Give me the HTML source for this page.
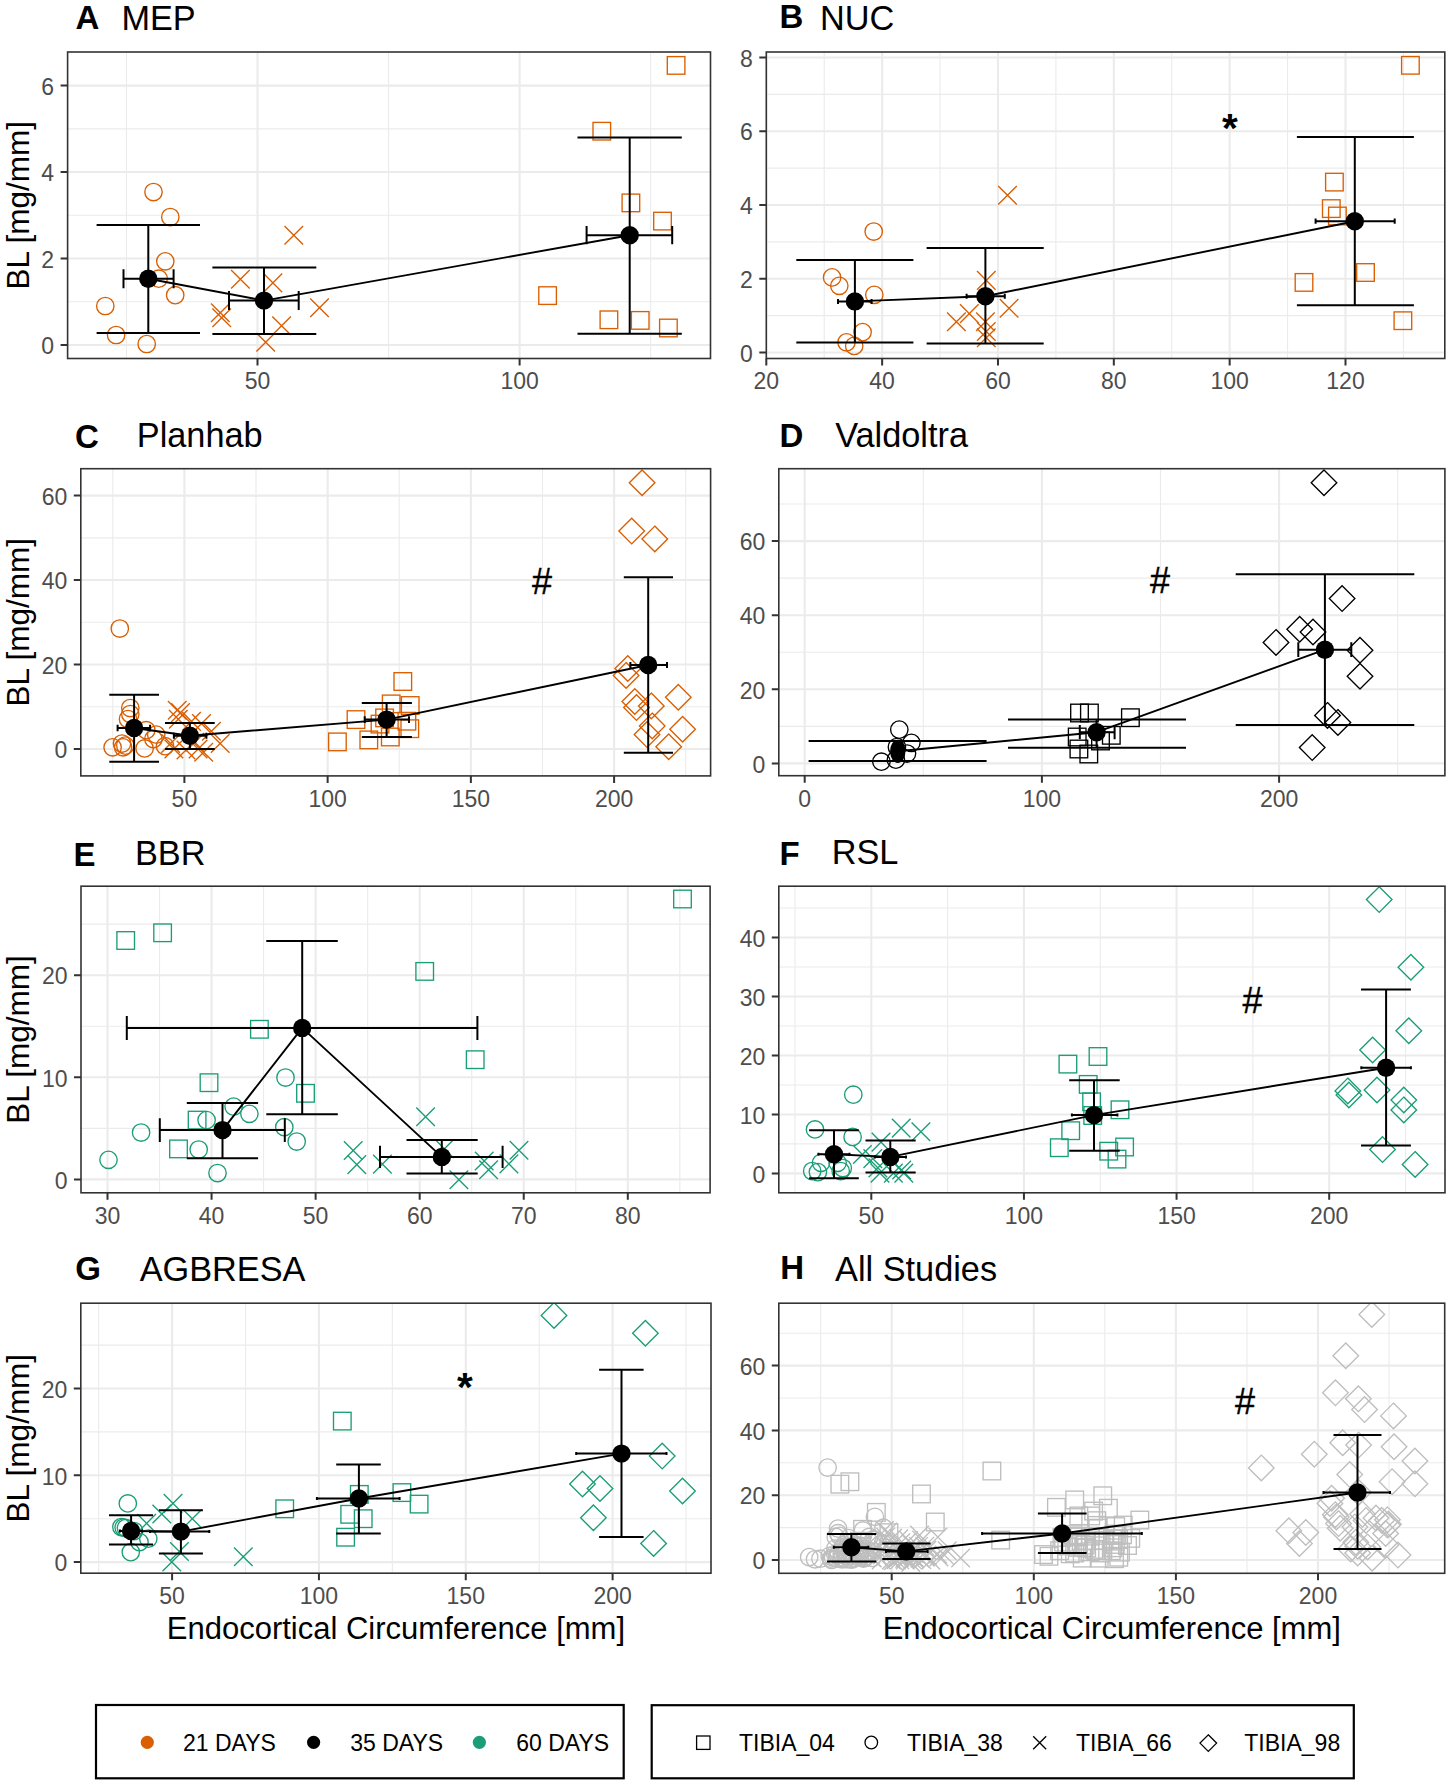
<!DOCTYPE html>
<html><head><meta charset="utf-8"><title>BL vs Endocortical Circumference</title>
<style>html,body{margin:0;padding:0;background:#fff;}svg{display:block;}</style></head>
<body><svg width="1450" height="1783" viewBox="0 0 1450 1783" font-family='"Liberation Sans", sans-serif'>
<rect width="1450" height="1783" fill="#fff"/>
<defs><clipPath id="cA"><rect x="67.6" y="52" width="642.9" height="306.5"/></clipPath><clipPath id="cB"><rect x="766.3" y="52" width="678.5" height="306.5"/></clipPath><clipPath id="cC"><rect x="80.8" y="468.7" width="629.8" height="307.2"/></clipPath><clipPath id="cD"><rect x="778.8" y="468.7" width="666.1" height="307"/></clipPath><clipPath id="cE"><rect x="81" y="886.2" width="629.1" height="306.6"/></clipPath><clipPath id="cF"><rect x="778.8" y="886.2" width="666.2" height="306.6"/></clipPath><clipPath id="cG"><rect x="80.8" y="1303.2" width="630.2" height="270"/></clipPath><clipPath id="cH"><rect x="778.8" y="1303.2" width="665.9" height="270.1"/></clipPath></defs>
<g clip-path="url(#cA)"><line x1="126.45" y1="52" x2="126.45" y2="358.5" stroke="#EBEBEB" stroke-width="1.1"/><line x1="388.55" y1="52" x2="388.55" y2="358.5" stroke="#EBEBEB" stroke-width="1.1"/><line x1="650.65" y1="52" x2="650.65" y2="358.5" stroke="#EBEBEB" stroke-width="1.1"/><line x1="67.6" y1="301.77" x2="710.5" y2="301.77" stroke="#EBEBEB" stroke-width="1.1"/><line x1="67.6" y1="215.3" x2="710.5" y2="215.3" stroke="#EBEBEB" stroke-width="1.1"/><line x1="67.6" y1="128.83" x2="710.5" y2="128.83" stroke="#EBEBEB" stroke-width="1.1"/><line x1="257.5" y1="52" x2="257.5" y2="358.5" stroke="#EBEBEB" stroke-width="2.1"/><line x1="519.6" y1="52" x2="519.6" y2="358.5" stroke="#EBEBEB" stroke-width="2.1"/><line x1="67.6" y1="345" x2="710.5" y2="345" stroke="#EBEBEB" stroke-width="2.1"/><line x1="67.6" y1="258.53" x2="710.5" y2="258.53" stroke="#EBEBEB" stroke-width="2.1"/><line x1="67.6" y1="172.07" x2="710.5" y2="172.07" stroke="#EBEBEB" stroke-width="2.1"/><line x1="67.6" y1="85.6" x2="710.5" y2="85.6" stroke="#EBEBEB" stroke-width="2.1"/><circle cx="105.3" cy="306" r="8.7" fill="none" stroke="#D95F02" stroke-width="1.35"/><circle cx="116.1" cy="335" r="8.7" fill="none" stroke="#D95F02" stroke-width="1.35"/><circle cx="146.7" cy="344" r="8.7" fill="none" stroke="#D95F02" stroke-width="1.35"/><circle cx="153.5" cy="192" r="8.7" fill="none" stroke="#D95F02" stroke-width="1.35"/><circle cx="170.3" cy="217" r="8.7" fill="none" stroke="#D95F02" stroke-width="1.35"/><circle cx="165.3" cy="261.3" r="8.7" fill="none" stroke="#D95F02" stroke-width="1.35"/><circle cx="158.7" cy="278.7" r="8.7" fill="none" stroke="#D95F02" stroke-width="1.35"/><circle cx="175.2" cy="295.2" r="8.7" fill="none" stroke="#D95F02" stroke-width="1.35"/><path d="M284.5 226L303.1 244.6M284.5 244.6L303.1 226" stroke="#D95F02" stroke-width="1.35"/><path d="M231.1 270L249.7 288.6M231.1 288.6L249.7 270" stroke="#D95F02" stroke-width="1.35"/><path d="M263.6 273.6L282.2 292.2M263.6 292.2L282.2 273.6" stroke="#D95F02" stroke-width="1.35"/><path d="M211 303.5L229.6 322.1M211 322.1L229.6 303.5" stroke="#D95F02" stroke-width="1.35"/><path d="M212.4 308.4L231 327M212.4 327L231 308.4" stroke="#D95F02" stroke-width="1.35"/><path d="M310.2 298.4L328.8 317M310.2 317L328.8 298.4" stroke="#D95F02" stroke-width="1.35"/><path d="M272.3 316.4L290.9 335M272.3 335L290.9 316.4" stroke="#D95F02" stroke-width="1.35"/><path d="M256.4 333L275 351.6M256.4 351.6L275 333" stroke="#D95F02" stroke-width="1.35"/><rect x="667.3" y="56.6" width="17.6" height="17.6" fill="none" stroke="#D95F02" stroke-width="1.35"/><rect x="593" y="122.4" width="17.6" height="17.6" fill="none" stroke="#D95F02" stroke-width="1.35"/><rect x="622.1" y="194.1" width="17.6" height="17.6" fill="none" stroke="#D95F02" stroke-width="1.35"/><rect x="653.7" y="212.3" width="17.6" height="17.6" fill="none" stroke="#D95F02" stroke-width="1.35"/><rect x="538.8" y="286.8" width="17.6" height="17.6" fill="none" stroke="#D95F02" stroke-width="1.35"/><rect x="600.1" y="311" width="17.6" height="17.6" fill="none" stroke="#D95F02" stroke-width="1.35"/><rect x="631.4" y="311.6" width="17.6" height="17.6" fill="none" stroke="#D95F02" stroke-width="1.35"/><rect x="659.6" y="319.2" width="17.6" height="17.6" fill="none" stroke="#D95F02" stroke-width="1.35"/><polyline points="148.3,278.7 264,300.6 629.7,235.2" fill="none" stroke="#000" stroke-width="1.9" stroke-linejoin="round"/><path d="M148.3 225.1V333M96.6 225.1H200M96.6 333H200M123.5 278.7H173.6M123.5 269.2V288.2M173.6 269.2V288.2M264 267.4V334M212.4 267.4H316.3M212.4 334H316.3M229 300.6H298.7M229 291.1V310.1M298.7 291.1V310.1M629.7 137.4V333.7M577.5 137.4H681.8M577.5 333.7H681.8M586.6 235.2H672.2M586.6 226.1V244.3M672.2 226.1V244.3" stroke="#000" stroke-width="2.0" fill="none"/><circle cx="148.3" cy="278.7" r="9.2" fill="#000"/><circle cx="264" cy="300.6" r="9.2" fill="#000"/><circle cx="629.7" cy="235.2" r="9.2" fill="#000"/></g>
<rect x="67.6" y="52" width="642.9" height="306.5" fill="none" stroke="#333333" stroke-width="1.6"/>
<path d="M257.5 358.5V365.5M519.6 358.5V365.5M60.6 345H67.6M60.6 258.53H67.6M60.6 172.07H67.6M60.6 85.6H67.6" stroke="#333333" stroke-width="2.0"/>
<text x="257.5" y="389.3" font-size="23" fill="#4D4D4D" text-anchor="middle">50</text>
<text x="519.6" y="389.3" font-size="23" fill="#4D4D4D" text-anchor="middle">100</text>
<text x="54.1" y="354.2" font-size="23" fill="#4D4D4D" text-anchor="end">0</text>
<text x="54.1" y="267.73" font-size="23" fill="#4D4D4D" text-anchor="end">2</text>
<text x="54.1" y="181.27" font-size="23" fill="#4D4D4D" text-anchor="end">4</text>
<text x="54.1" y="94.8" font-size="23" fill="#4D4D4D" text-anchor="end">6</text>
<text x="75.48" y="28.6" font-size="33" font-weight="bold" fill="#000">A</text>
<text x="121.39" y="30.3" font-size="34.3" fill="#000">MEP</text>
<text transform="translate(29,205.25) rotate(-90)" font-size="31.5" text-anchor="middle" fill="#000">BL [mg/mm]</text>
<g clip-path="url(#cB)"><line x1="824.22" y1="52" x2="824.22" y2="358.5" stroke="#EBEBEB" stroke-width="1.1"/><line x1="940.06" y1="52" x2="940.06" y2="358.5" stroke="#EBEBEB" stroke-width="1.1"/><line x1="1055.9" y1="52" x2="1055.9" y2="358.5" stroke="#EBEBEB" stroke-width="1.1"/><line x1="1171.74" y1="52" x2="1171.74" y2="358.5" stroke="#EBEBEB" stroke-width="1.1"/><line x1="1287.58" y1="52" x2="1287.58" y2="358.5" stroke="#EBEBEB" stroke-width="1.1"/><line x1="1403.42" y1="52" x2="1403.42" y2="358.5" stroke="#EBEBEB" stroke-width="1.1"/><line x1="766.3" y1="315.62" x2="1444.8" y2="315.62" stroke="#EBEBEB" stroke-width="1.1"/><line x1="766.3" y1="241.88" x2="1444.8" y2="241.88" stroke="#EBEBEB" stroke-width="1.1"/><line x1="766.3" y1="168.12" x2="1444.8" y2="168.12" stroke="#EBEBEB" stroke-width="1.1"/><line x1="766.3" y1="94.38" x2="1444.8" y2="94.38" stroke="#EBEBEB" stroke-width="1.1"/><line x1="766.3" y1="52" x2="766.3" y2="358.5" stroke="#EBEBEB" stroke-width="2.1"/><line x1="882.14" y1="52" x2="882.14" y2="358.5" stroke="#EBEBEB" stroke-width="2.1"/><line x1="997.98" y1="52" x2="997.98" y2="358.5" stroke="#EBEBEB" stroke-width="2.1"/><line x1="1113.82" y1="52" x2="1113.82" y2="358.5" stroke="#EBEBEB" stroke-width="2.1"/><line x1="1229.66" y1="52" x2="1229.66" y2="358.5" stroke="#EBEBEB" stroke-width="2.1"/><line x1="1345.5" y1="52" x2="1345.5" y2="358.5" stroke="#EBEBEB" stroke-width="2.1"/><line x1="766.3" y1="352.5" x2="1444.8" y2="352.5" stroke="#EBEBEB" stroke-width="2.1"/><line x1="766.3" y1="278.75" x2="1444.8" y2="278.75" stroke="#EBEBEB" stroke-width="2.1"/><line x1="766.3" y1="205" x2="1444.8" y2="205" stroke="#EBEBEB" stroke-width="2.1"/><line x1="766.3" y1="131.25" x2="1444.8" y2="131.25" stroke="#EBEBEB" stroke-width="2.1"/><line x1="766.3" y1="57.5" x2="1444.8" y2="57.5" stroke="#EBEBEB" stroke-width="2.1"/><circle cx="873.7" cy="231.5" r="8.7" fill="none" stroke="#D95F02" stroke-width="1.35"/><circle cx="832.1" cy="277.4" r="8.7" fill="none" stroke="#D95F02" stroke-width="1.35"/><circle cx="839.3" cy="285.8" r="8.7" fill="none" stroke="#D95F02" stroke-width="1.35"/><circle cx="874.3" cy="294.8" r="8.7" fill="none" stroke="#D95F02" stroke-width="1.35"/><circle cx="862.6" cy="332.1" r="8.7" fill="none" stroke="#D95F02" stroke-width="1.35"/><circle cx="846.5" cy="342.3" r="8.7" fill="none" stroke="#D95F02" stroke-width="1.35"/><circle cx="854.2" cy="345.9" r="8.7" fill="none" stroke="#D95F02" stroke-width="1.35"/><path d="M998.2 185.9L1016.8 204.5M998.2 204.5L1016.8 185.9" stroke="#D95F02" stroke-width="1.35"/><path d="M977 271.1L995.6 289.7M977 289.7L995.6 271.1" stroke="#D95F02" stroke-width="1.35"/><path d="M999.8 298.9L1018.4 317.5M999.8 317.5L1018.4 298.9" stroke="#D95F02" stroke-width="1.35"/><path d="M947.1 312.4L965.7 331M947.1 331L965.7 312.4" stroke="#D95F02" stroke-width="1.35"/><path d="M960 304.3L978.6 322.9M960 322.9L978.6 304.3" stroke="#D95F02" stroke-width="1.35"/><path d="M976.1 312.4L994.7 331M976.1 331L994.7 312.4" stroke="#D95F02" stroke-width="1.35"/><path d="M977 322.2L995.6 340.8M977 340.8L995.6 322.2" stroke="#D95F02" stroke-width="1.35"/><path d="M977 328.5L995.6 347.1M977 347.1L995.6 328.5" stroke="#D95F02" stroke-width="1.35"/><rect x="1401.6" y="56.5" width="17.6" height="17.6" fill="none" stroke="#D95F02" stroke-width="1.35"/><rect x="1325.6" y="173.3" width="17.6" height="17.6" fill="none" stroke="#D95F02" stroke-width="1.35"/><rect x="1322.5" y="199.8" width="17.6" height="17.6" fill="none" stroke="#D95F02" stroke-width="1.35"/><rect x="1328.6" y="207.2" width="17.6" height="17.6" fill="none" stroke="#D95F02" stroke-width="1.35"/><rect x="1295.2" y="273.6" width="17.6" height="17.6" fill="none" stroke="#D95F02" stroke-width="1.35"/><rect x="1356.7" y="263.7" width="17.6" height="17.6" fill="none" stroke="#D95F02" stroke-width="1.35"/><rect x="1394.1" y="311.9" width="17.6" height="17.6" fill="none" stroke="#D95F02" stroke-width="1.35"/><polyline points="854.9,301.4 985.4,296.2 1354.8,221.2" fill="none" stroke="#000" stroke-width="1.9" stroke-linejoin="round"/><path d="M854.9 260.1V342.6M796.3 260.1H913.4M796.3 342.6H913.4M838 301.4H871.6M838 298.9V303.9M871.6 298.9V303.9M985.4 248.1V343.5M926.6 248.1H1043.7M926.6 343.5H1043.7M966.6 296.2H1004.8M966.6 293.7V298.7M1004.8 293.7V298.7M1354.8 136.9V305.2M1296.9 136.9H1413.9M1296.9 305.2H1413.9M1315.6 221.2H1394.7M1315.6 218.6V223.8M1394.7 218.6V223.8" stroke="#000" stroke-width="2.0" fill="none"/><circle cx="854.9" cy="301.4" r="9.2" fill="#000"/><circle cx="985.4" cy="296.2" r="9.2" fill="#000"/><circle cx="1354.8" cy="221.2" r="9.2" fill="#000"/><text x="1229.9" y="142.3" font-size="40.5" font-weight="bold" text-anchor="middle" fill="#000">*</text></g>
<rect x="766.3" y="52" width="678.5" height="306.5" fill="none" stroke="#333333" stroke-width="1.6"/>
<path d="M766.3 358.5V365.5M882.14 358.5V365.5M997.98 358.5V365.5M1113.82 358.5V365.5M1229.66 358.5V365.5M1345.5 358.5V365.5M759.3 352.5H766.3M759.3 278.75H766.3M759.3 205H766.3M759.3 131.25H766.3M759.3 57.5H766.3" stroke="#333333" stroke-width="2.0"/>
<text x="766.3" y="389.3" font-size="23" fill="#4D4D4D" text-anchor="middle">20</text>
<text x="882.14" y="389.3" font-size="23" fill="#4D4D4D" text-anchor="middle">40</text>
<text x="997.98" y="389.3" font-size="23" fill="#4D4D4D" text-anchor="middle">60</text>
<text x="1113.82" y="389.3" font-size="23" fill="#4D4D4D" text-anchor="middle">80</text>
<text x="1229.66" y="389.3" font-size="23" fill="#4D4D4D" text-anchor="middle">100</text>
<text x="1345.5" y="389.3" font-size="23" fill="#4D4D4D" text-anchor="middle">120</text>
<text x="752.8" y="361.7" font-size="23" fill="#4D4D4D" text-anchor="end">0</text>
<text x="752.8" y="287.95" font-size="23" fill="#4D4D4D" text-anchor="end">2</text>
<text x="752.8" y="214.2" font-size="23" fill="#4D4D4D" text-anchor="end">4</text>
<text x="752.8" y="140.45" font-size="23" fill="#4D4D4D" text-anchor="end">6</text>
<text x="752.8" y="66.7" font-size="23" fill="#4D4D4D" text-anchor="end">8</text>
<text x="779.59" y="28.3" font-size="33" font-weight="bold" fill="#000">B</text>
<text x="820.09" y="30.4" font-size="34.3" fill="#000">NUC</text>
<g clip-path="url(#cC)"><line x1="112.78" y1="468.7" x2="112.78" y2="775.9" stroke="#EBEBEB" stroke-width="1.1"/><line x1="256.02" y1="468.7" x2="256.02" y2="775.9" stroke="#EBEBEB" stroke-width="1.1"/><line x1="399.25" y1="468.7" x2="399.25" y2="775.9" stroke="#EBEBEB" stroke-width="1.1"/><line x1="542.48" y1="468.7" x2="542.48" y2="775.9" stroke="#EBEBEB" stroke-width="1.1"/><line x1="685.72" y1="468.7" x2="685.72" y2="775.9" stroke="#EBEBEB" stroke-width="1.1"/><line x1="80.8" y1="706.77" x2="710.6" y2="706.77" stroke="#EBEBEB" stroke-width="1.1"/><line x1="80.8" y1="622.3" x2="710.6" y2="622.3" stroke="#EBEBEB" stroke-width="1.1"/><line x1="80.8" y1="537.83" x2="710.6" y2="537.83" stroke="#EBEBEB" stroke-width="1.1"/><line x1="184.4" y1="468.7" x2="184.4" y2="775.9" stroke="#EBEBEB" stroke-width="2.1"/><line x1="327.63" y1="468.7" x2="327.63" y2="775.9" stroke="#EBEBEB" stroke-width="2.1"/><line x1="470.87" y1="468.7" x2="470.87" y2="775.9" stroke="#EBEBEB" stroke-width="2.1"/><line x1="614.1" y1="468.7" x2="614.1" y2="775.9" stroke="#EBEBEB" stroke-width="2.1"/><line x1="80.8" y1="749" x2="710.6" y2="749" stroke="#EBEBEB" stroke-width="2.1"/><line x1="80.8" y1="664.53" x2="710.6" y2="664.53" stroke="#EBEBEB" stroke-width="2.1"/><line x1="80.8" y1="580.07" x2="710.6" y2="580.07" stroke="#EBEBEB" stroke-width="2.1"/><line x1="80.8" y1="495.6" x2="710.6" y2="495.6" stroke="#EBEBEB" stroke-width="2.1"/><circle cx="119.8" cy="628.5" r="8.7" fill="none" stroke="#D95F02" stroke-width="1.35"/><circle cx="130.3" cy="708" r="8.7" fill="none" stroke="#D95F02" stroke-width="1.35"/><circle cx="130.3" cy="714" r="8.7" fill="none" stroke="#D95F02" stroke-width="1.35"/><circle cx="128" cy="719" r="8.7" fill="none" stroke="#D95F02" stroke-width="1.35"/><circle cx="112.6" cy="747.3" r="8.7" fill="none" stroke="#D95F02" stroke-width="1.35"/><circle cx="122" cy="743.5" r="8.7" fill="none" stroke="#D95F02" stroke-width="1.35"/><circle cx="123.1" cy="747.3" r="8.7" fill="none" stroke="#D95F02" stroke-width="1.35"/><circle cx="125.3" cy="745.6" r="8.7" fill="none" stroke="#D95F02" stroke-width="1.35"/><circle cx="144.6" cy="748.4" r="8.7" fill="none" stroke="#D95F02" stroke-width="1.35"/><circle cx="146.3" cy="730.2" r="8.7" fill="none" stroke="#D95F02" stroke-width="1.35"/><circle cx="153.4" cy="739" r="8.7" fill="none" stroke="#D95F02" stroke-width="1.35"/><circle cx="156.2" cy="734.6" r="8.7" fill="none" stroke="#D95F02" stroke-width="1.35"/><circle cx="165" cy="746.2" r="8.7" fill="none" stroke="#D95F02" stroke-width="1.35"/><path d="M167.9 701L186.5 719.6M167.9 719.6L186.5 701" stroke="#D95F02" stroke-width="1.35"/><path d="M171.2 703.3L189.8 721.9M171.2 721.9L189.8 703.3" stroke="#D95F02" stroke-width="1.35"/><path d="M169 709.9L187.6 728.5M169 728.5L187.6 709.9" stroke="#D95F02" stroke-width="1.35"/><path d="M182.2 712.1L200.8 730.7M182.2 730.7L200.8 712.1" stroke="#D95F02" stroke-width="1.35"/><path d="M192.2 714.3L210.8 732.9M192.2 732.9L210.8 714.3" stroke="#D95F02" stroke-width="1.35"/><path d="M202.1 722L220.7 740.6M202.1 740.6L220.7 722" stroke="#D95F02" stroke-width="1.35"/><path d="M210.9 734.2L229.5 752.8M210.9 752.8L229.5 734.2" stroke="#D95F02" stroke-width="1.35"/><path d="M161.3 734.2L179.9 752.8M161.3 752.8L179.9 734.2" stroke="#D95F02" stroke-width="1.35"/><path d="M164.6 739.7L183.2 758.3M164.6 758.3L183.2 739.7" stroke="#D95F02" stroke-width="1.35"/><path d="M176.7 740.7L195.3 759.3M176.7 759.3L195.3 740.7" stroke="#D95F02" stroke-width="1.35"/><path d="M188.8 739.7L207.4 758.3M188.8 758.3L207.4 739.7" stroke="#D95F02" stroke-width="1.35"/><path d="M194.4 743L213 761.6M194.4 761.6L213 743" stroke="#D95F02" stroke-width="1.35"/><path d="M185.5 733L204.1 751.6M185.5 751.6L204.1 733" stroke="#D95F02" stroke-width="1.35"/><rect x="394" y="672.7" width="17.6" height="17.6" fill="none" stroke="#D95F02" stroke-width="1.35"/><rect x="382.4" y="695.1" width="17.6" height="17.6" fill="none" stroke="#D95F02" stroke-width="1.35"/><rect x="401.4" y="696.7" width="17.6" height="17.6" fill="none" stroke="#D95F02" stroke-width="1.35"/><rect x="347.2" y="710.8" width="17.6" height="17.6" fill="none" stroke="#D95F02" stroke-width="1.35"/><rect x="328.6" y="733.1" width="17.6" height="17.6" fill="none" stroke="#D95F02" stroke-width="1.35"/><rect x="360" y="731.1" width="17.6" height="17.6" fill="none" stroke="#D95F02" stroke-width="1.35"/><rect x="371.2" y="715.3" width="17.6" height="17.6" fill="none" stroke="#D95F02" stroke-width="1.35"/><rect x="375.8" y="709.1" width="17.6" height="17.6" fill="none" stroke="#D95F02" stroke-width="1.35"/><rect x="381.5" y="728.2" width="17.6" height="17.6" fill="none" stroke="#D95F02" stroke-width="1.35"/><rect x="398.1" y="712.4" width="17.6" height="17.6" fill="none" stroke="#D95F02" stroke-width="1.35"/><rect x="401" y="719.9" width="17.6" height="17.6" fill="none" stroke="#D95F02" stroke-width="1.35"/><path d="M642.1 469.9L654.9 482.7L642.1 495.5L629.3 482.7Z" fill="none" stroke="#D95F02" stroke-width="1.35"/><path d="M631.7 518.3L644.5 531.1L631.7 543.9L618.9 531.1Z" fill="none" stroke="#D95F02" stroke-width="1.35"/><path d="M654.8 526.1L667.6 538.9L654.8 551.7L642 538.9Z" fill="none" stroke="#D95F02" stroke-width="1.35"/><path d="M627.8 655.7L640.6 668.5L627.8 681.3L615 668.5Z" fill="none" stroke="#D95F02" stroke-width="1.35"/><path d="M626.1 662.6L638.9 675.4L626.1 688.2L613.3 675.4Z" fill="none" stroke="#D95F02" stroke-width="1.35"/><path d="M634.8 688.7L647.6 701.5L634.8 714.3L622 701.5Z" fill="none" stroke="#D95F02" stroke-width="1.35"/><path d="M636.5 694.8L649.3 707.6L636.5 720.4L623.7 707.6Z" fill="none" stroke="#D95F02" stroke-width="1.35"/><path d="M651.3 693.1L664.1 705.9L651.3 718.7L638.5 705.9Z" fill="none" stroke="#D95F02" stroke-width="1.35"/><path d="M678.3 684.4L691.1 697.2L678.3 710L665.5 697.2Z" fill="none" stroke="#D95F02" stroke-width="1.35"/><path d="M652.2 713.1L665 725.9L652.2 738.7L639.4 725.9Z" fill="none" stroke="#D95F02" stroke-width="1.35"/><path d="M647 721.8L659.8 734.6L647 747.4L634.2 734.6Z" fill="none" stroke="#D95F02" stroke-width="1.35"/><path d="M682.6 716.5L695.4 729.3L682.6 742.1L669.8 729.3Z" fill="none" stroke="#D95F02" stroke-width="1.35"/><path d="M668.7 733.9L681.5 746.7L668.7 759.5L655.9 746.7Z" fill="none" stroke="#D95F02" stroke-width="1.35"/><polyline points="134.1,728 189.9,735.7 386.6,719.6 648.2,665" fill="none" stroke="#000" stroke-width="1.9" stroke-linejoin="round"/><path d="M134.1 694.7V761.7M109.3 694.7H159M109.3 761.7H159M117.6 728H150.1M117.6 724.7V731.3M150.1 724.7V731.3M189.9 723V749M165 723H214.7M165 749H214.7M173.9 735.7H206.4M173.9 732.7V738.7M206.4 732.7V738.7M386.6 703V737M361.8 703H411.9M361.8 737H411.9M364.7 719.6H409M364.7 716.3V722.9M409 716.3V722.9M648.2 577.2V752.8M623.8 577.2H673M623.8 752.8H673M630.4 665H667M630.4 662V668M667 662V668" stroke="#000" stroke-width="2.0" fill="none"/><circle cx="134.1" cy="728" r="9.2" fill="#000"/><circle cx="189.9" cy="735.7" r="9.2" fill="#000"/><circle cx="386.6" cy="719.6" r="9.2" fill="#000"/><circle cx="648.2" cy="665" r="9.2" fill="#000"/><text x="542.1" y="593.8" font-size="36" text-anchor="middle" fill="#000" stroke="#000" stroke-width="0.35">#</text></g>
<rect x="80.8" y="468.7" width="629.8" height="307.2" fill="none" stroke="#333333" stroke-width="1.6"/>
<path d="M184.4 775.9V782.9M327.63 775.9V782.9M470.87 775.9V782.9M614.1 775.9V782.9M73.8 749H80.8M73.8 664.53H80.8M73.8 580.07H80.8M73.8 495.6H80.8" stroke="#333333" stroke-width="2.0"/>
<text x="184.4" y="806.7" font-size="23" fill="#4D4D4D" text-anchor="middle">50</text>
<text x="327.63" y="806.7" font-size="23" fill="#4D4D4D" text-anchor="middle">100</text>
<text x="470.87" y="806.7" font-size="23" fill="#4D4D4D" text-anchor="middle">150</text>
<text x="614.1" y="806.7" font-size="23" fill="#4D4D4D" text-anchor="middle">200</text>
<text x="67.3" y="758.2" font-size="23" fill="#4D4D4D" text-anchor="end">0</text>
<text x="67.3" y="673.73" font-size="23" fill="#4D4D4D" text-anchor="end">20</text>
<text x="67.3" y="589.27" font-size="23" fill="#4D4D4D" text-anchor="end">40</text>
<text x="67.3" y="504.8" font-size="23" fill="#4D4D4D" text-anchor="end">60</text>
<text x="74.95" y="447.6" font-size="33" font-weight="bold" fill="#000">C</text>
<text x="136.79" y="447.3" font-size="34.3" fill="#000">Planhab</text>
<text transform="translate(29,622.3) rotate(-90)" font-size="31.5" text-anchor="middle" fill="#000">BL [mg/mm]</text>
<g clip-path="url(#cD)"><line x1="923.3" y1="468.7" x2="923.3" y2="775.7" stroke="#EBEBEB" stroke-width="1.1"/><line x1="1160.5" y1="468.7" x2="1160.5" y2="775.7" stroke="#EBEBEB" stroke-width="1.1"/><line x1="1397.7" y1="468.7" x2="1397.7" y2="775.7" stroke="#EBEBEB" stroke-width="1.1"/><line x1="778.8" y1="726.35" x2="1444.9" y2="726.35" stroke="#EBEBEB" stroke-width="1.1"/><line x1="778.8" y1="652.25" x2="1444.9" y2="652.25" stroke="#EBEBEB" stroke-width="1.1"/><line x1="778.8" y1="578.15" x2="1444.9" y2="578.15" stroke="#EBEBEB" stroke-width="1.1"/><line x1="778.8" y1="504.05" x2="1444.9" y2="504.05" stroke="#EBEBEB" stroke-width="1.1"/><line x1="804.7" y1="468.7" x2="804.7" y2="775.7" stroke="#EBEBEB" stroke-width="2.1"/><line x1="1041.9" y1="468.7" x2="1041.9" y2="775.7" stroke="#EBEBEB" stroke-width="2.1"/><line x1="1279.1" y1="468.7" x2="1279.1" y2="775.7" stroke="#EBEBEB" stroke-width="2.1"/><line x1="778.8" y1="763.4" x2="1444.9" y2="763.4" stroke="#EBEBEB" stroke-width="2.1"/><line x1="778.8" y1="689.3" x2="1444.9" y2="689.3" stroke="#EBEBEB" stroke-width="2.1"/><line x1="778.8" y1="615.2" x2="1444.9" y2="615.2" stroke="#EBEBEB" stroke-width="2.1"/><line x1="778.8" y1="541.1" x2="1444.9" y2="541.1" stroke="#EBEBEB" stroke-width="2.1"/><circle cx="899.3" cy="729.6" r="8.7" fill="none" stroke="#000000" stroke-width="1.35"/><circle cx="911.4" cy="742.8" r="8.7" fill="none" stroke="#000000" stroke-width="1.35"/><circle cx="896.9" cy="747" r="8.7" fill="none" stroke="#000000" stroke-width="1.35"/><circle cx="881.4" cy="761.7" r="8.7" fill="none" stroke="#000000" stroke-width="1.35"/><circle cx="895.9" cy="759.7" r="8.7" fill="none" stroke="#000000" stroke-width="1.35"/><circle cx="907" cy="753.5" r="8.7" fill="none" stroke="#000000" stroke-width="1.35"/><rect x="1070.7" y="704.2" width="17.6" height="17.6" fill="none" stroke="#000000" stroke-width="1.35"/><rect x="1080.6" y="704.2" width="17.6" height="17.6" fill="none" stroke="#000000" stroke-width="1.35"/><rect x="1121.6" y="708.9" width="17.6" height="17.6" fill="none" stroke="#000000" stroke-width="1.35"/><rect x="1068.4" y="728.2" width="17.6" height="17.6" fill="none" stroke="#000000" stroke-width="1.35"/><rect x="1070.1" y="740.2" width="17.6" height="17.6" fill="none" stroke="#000000" stroke-width="1.35"/><rect x="1080" y="745.2" width="17.6" height="17.6" fill="none" stroke="#000000" stroke-width="1.35"/><rect x="1102.5" y="726.5" width="17.6" height="17.6" fill="none" stroke="#000000" stroke-width="1.35"/><rect x="1091.7" y="732.2" width="17.6" height="17.6" fill="none" stroke="#000000" stroke-width="1.35"/><path d="M1324 469.9L1336.8 482.7L1324 495.5L1311.2 482.7Z" fill="none" stroke="#000000" stroke-width="1.35"/><path d="M1342.1 585.8L1354.9 598.6L1342.1 611.4L1329.3 598.6Z" fill="none" stroke="#000000" stroke-width="1.35"/><path d="M1299.7 616.5L1312.5 629.3L1299.7 642.1L1286.9 629.3Z" fill="none" stroke="#000000" stroke-width="1.35"/><path d="M1313 619.2L1325.8 632L1313 644.8L1300.2 632Z" fill="none" stroke="#000000" stroke-width="1.35"/><path d="M1276 629.6L1288.8 642.4L1276 655.2L1263.2 642.4Z" fill="none" stroke="#000000" stroke-width="1.35"/><path d="M1360 637.4L1372.8 650.2L1360 663L1347.2 650.2Z" fill="none" stroke="#000000" stroke-width="1.35"/><path d="M1360 663.5L1372.8 676.3L1360 689.1L1347.2 676.3Z" fill="none" stroke="#000000" stroke-width="1.35"/><path d="M1327.5 702.6L1340.3 715.4L1327.5 728.2L1314.7 715.4Z" fill="none" stroke="#000000" stroke-width="1.35"/><path d="M1337.9 709.6L1350.7 722.4L1337.9 735.2L1325.1 722.4Z" fill="none" stroke="#000000" stroke-width="1.35"/><path d="M1312.2 734.8L1325 747.6L1312.2 760.4L1299.4 747.6Z" fill="none" stroke="#000000" stroke-width="1.35"/><polyline points="897.8,751.3 1096.6,732.2 1324.9,649.7" fill="none" stroke="#000" stroke-width="1.9" stroke-linejoin="round"/><path d="M897.8 741V761M808.6 741H986.6M808.6 761H986.6M892 751.3H904M892 749.3V753.3M904 749.3V753.3M1096.6 719.5V747.8M1008 719.5H1186M1008 747.8H1186M1079.8 732.2H1114.6M1079.8 725.1V739.3M1114.6 725.1V739.3M1324.9 574.2V725M1235.7 574.2H1414.3M1235.7 725H1414.3M1298.3 649.7H1351.3M1298.3 642.3V657.1M1351.3 642.3V657.1" stroke="#000" stroke-width="2.0" fill="none"/><ellipse cx="897.8" cy="751.3" rx="7.7" ry="11.6" fill="#000"/><circle cx="1096.6" cy="732.2" r="9.2" fill="#000"/><circle cx="1324.9" cy="649.7" r="9.2" fill="#000"/><text x="1160" y="592.8" font-size="36" text-anchor="middle" fill="#000" stroke="#000" stroke-width="0.35">#</text></g>
<rect x="778.8" y="468.7" width="666.1" height="307" fill="none" stroke="#333333" stroke-width="1.6"/>
<path d="M804.7 775.7V782.7M1041.9 775.7V782.7M1279.1 775.7V782.7M771.8 763.4H778.8M771.8 689.3H778.8M771.8 615.2H778.8M771.8 541.1H778.8" stroke="#333333" stroke-width="2.0"/>
<text x="804.7" y="806.5" font-size="23" fill="#4D4D4D" text-anchor="middle">0</text>
<text x="1041.9" y="806.5" font-size="23" fill="#4D4D4D" text-anchor="middle">100</text>
<text x="1279.1" y="806.5" font-size="23" fill="#4D4D4D" text-anchor="middle">200</text>
<text x="765.3" y="772.6" font-size="23" fill="#4D4D4D" text-anchor="end">0</text>
<text x="765.3" y="698.5" font-size="23" fill="#4D4D4D" text-anchor="end">20</text>
<text x="765.3" y="624.4" font-size="23" fill="#4D4D4D" text-anchor="end">40</text>
<text x="765.3" y="550.3" font-size="23" fill="#4D4D4D" text-anchor="end">60</text>
<text x="779.59" y="446.8" font-size="33" font-weight="bold" fill="#000">D</text>
<text x="835.15" y="447.3" font-size="34.3" fill="#000">Valdoltra</text>
<g clip-path="url(#cE)"><line x1="159.53" y1="886.2" x2="159.53" y2="1192.8" stroke="#EBEBEB" stroke-width="1.1"/><line x1="263.59" y1="886.2" x2="263.59" y2="1192.8" stroke="#EBEBEB" stroke-width="1.1"/><line x1="367.65" y1="886.2" x2="367.65" y2="1192.8" stroke="#EBEBEB" stroke-width="1.1"/><line x1="471.71" y1="886.2" x2="471.71" y2="1192.8" stroke="#EBEBEB" stroke-width="1.1"/><line x1="575.77" y1="886.2" x2="575.77" y2="1192.8" stroke="#EBEBEB" stroke-width="1.1"/><line x1="679.83" y1="886.2" x2="679.83" y2="1192.8" stroke="#EBEBEB" stroke-width="1.1"/><line x1="81" y1="1128.35" x2="710.1" y2="1128.35" stroke="#EBEBEB" stroke-width="1.1"/><line x1="81" y1="1026.25" x2="710.1" y2="1026.25" stroke="#EBEBEB" stroke-width="1.1"/><line x1="81" y1="924.15" x2="710.1" y2="924.15" stroke="#EBEBEB" stroke-width="1.1"/><line x1="107.5" y1="886.2" x2="107.5" y2="1192.8" stroke="#EBEBEB" stroke-width="2.1"/><line x1="211.56" y1="886.2" x2="211.56" y2="1192.8" stroke="#EBEBEB" stroke-width="2.1"/><line x1="315.62" y1="886.2" x2="315.62" y2="1192.8" stroke="#EBEBEB" stroke-width="2.1"/><line x1="419.68" y1="886.2" x2="419.68" y2="1192.8" stroke="#EBEBEB" stroke-width="2.1"/><line x1="523.74" y1="886.2" x2="523.74" y2="1192.8" stroke="#EBEBEB" stroke-width="2.1"/><line x1="627.8" y1="886.2" x2="627.8" y2="1192.8" stroke="#EBEBEB" stroke-width="2.1"/><line x1="81" y1="1179.4" x2="710.1" y2="1179.4" stroke="#EBEBEB" stroke-width="2.1"/><line x1="81" y1="1077.3" x2="710.1" y2="1077.3" stroke="#EBEBEB" stroke-width="2.1"/><line x1="81" y1="975.2" x2="710.1" y2="975.2" stroke="#EBEBEB" stroke-width="2.1"/><rect x="673.7" y="890.2" width="17.6" height="17.6" fill="none" stroke="#1B9E77" stroke-width="1.35"/><rect x="116.9" y="931.7" width="17.6" height="17.6" fill="none" stroke="#1B9E77" stroke-width="1.35"/><rect x="153.8" y="924" width="17.6" height="17.6" fill="none" stroke="#1B9E77" stroke-width="1.35"/><rect x="415.9" y="962.6" width="17.6" height="17.6" fill="none" stroke="#1B9E77" stroke-width="1.35"/><rect x="250.6" y="1020.5" width="17.6" height="17.6" fill="none" stroke="#1B9E77" stroke-width="1.35"/><rect x="466.4" y="1050.9" width="17.6" height="17.6" fill="none" stroke="#1B9E77" stroke-width="1.35"/><rect x="200.2" y="1073.9" width="17.6" height="17.6" fill="none" stroke="#1B9E77" stroke-width="1.35"/><rect x="296.7" y="1084.5" width="17.6" height="17.6" fill="none" stroke="#1B9E77" stroke-width="1.35"/><rect x="188.3" y="1111.3" width="17.6" height="17.6" fill="none" stroke="#1B9E77" stroke-width="1.35"/><rect x="169.7" y="1140.1" width="17.6" height="17.6" fill="none" stroke="#1B9E77" stroke-width="1.35"/><circle cx="108.5" cy="1159.8" r="8.7" fill="none" stroke="#1B9E77" stroke-width="1.35"/><circle cx="141.1" cy="1132.5" r="8.7" fill="none" stroke="#1B9E77" stroke-width="1.35"/><circle cx="206.6" cy="1120.1" r="8.7" fill="none" stroke="#1B9E77" stroke-width="1.35"/><circle cx="198.7" cy="1149.5" r="8.7" fill="none" stroke="#1B9E77" stroke-width="1.35"/><circle cx="233.6" cy="1106.6" r="8.7" fill="none" stroke="#1B9E77" stroke-width="1.35"/><circle cx="249.4" cy="1113.8" r="8.7" fill="none" stroke="#1B9E77" stroke-width="1.35"/><circle cx="285.5" cy="1077.5" r="8.7" fill="none" stroke="#1B9E77" stroke-width="1.35"/><circle cx="284.3" cy="1127.2" r="8.7" fill="none" stroke="#1B9E77" stroke-width="1.35"/><circle cx="296.7" cy="1141.5" r="8.7" fill="none" stroke="#1B9E77" stroke-width="1.35"/><circle cx="217.5" cy="1173" r="8.7" fill="none" stroke="#1B9E77" stroke-width="1.35"/><path d="M416.3 1107.5L434.9 1126.1M416.3 1126.1L434.9 1107.5" stroke="#1B9E77" stroke-width="1.35"/><path d="M343.9 1141.2L362.5 1159.8M343.9 1159.8L362.5 1141.2" stroke="#1B9E77" stroke-width="1.35"/><path d="M347.5 1155.3L366.1 1173.9M347.5 1173.9L366.1 1155.3" stroke="#1B9E77" stroke-width="1.35"/><path d="M373.1 1154.8L391.7 1173.4M373.1 1173.4L391.7 1154.8" stroke="#1B9E77" stroke-width="1.35"/><path d="M435.1 1139.4L453.7 1158M435.1 1158L453.7 1139.4" stroke="#1B9E77" stroke-width="1.35"/><path d="M449.6 1170.5L468.2 1189.1M449.6 1189.1L468.2 1170.5" stroke="#1B9E77" stroke-width="1.35"/><path d="M474.9 1151.7L493.5 1170.3M474.9 1170.3L493.5 1151.7" stroke="#1B9E77" stroke-width="1.35"/><path d="M479.3 1160.4L497.9 1179M479.3 1179L497.9 1160.4" stroke="#1B9E77" stroke-width="1.35"/><path d="M499.6 1154.6L518.2 1173.2M499.6 1173.2L518.2 1154.6" stroke="#1B9E77" stroke-width="1.35"/><path d="M509.7 1141L528.3 1159.6M509.7 1159.6L528.3 1141" stroke="#1B9E77" stroke-width="1.35"/><polyline points="222.5,1130.1 302.2,1027.9 441.8,1156.9" fill="none" stroke="#000" stroke-width="1.9" stroke-linejoin="round"/><path d="M222.5 1103.1V1158.2M186.8 1103.1H258.1M186.8 1158.2H258.1M159.8 1130.1H284.8M159.8 1118.2V1142M284.8 1118.2V1142M302.2 941V1114.2M266.3 941H337.8M266.3 1114.2H337.8M126.8 1027.9H477.4M126.8 1015.9V1039.9M477.4 1015.9V1039.9M441.8 1140V1173.6M406.5 1140H477.7M406.5 1173.6H477.7M380 1156.9H502.6M380 1145.7V1168.1M502.6 1145.7V1168.1" stroke="#000" stroke-width="2.0" fill="none"/><circle cx="222.5" cy="1130.1" r="9.2" fill="#000"/><circle cx="302.2" cy="1027.9" r="9.2" fill="#000"/><circle cx="441.8" cy="1156.9" r="9.2" fill="#000"/></g>
<rect x="81" y="886.2" width="629.1" height="306.6" fill="none" stroke="#333333" stroke-width="1.6"/>
<path d="M107.5 1192.8V1199.8M211.56 1192.8V1199.8M315.62 1192.8V1199.8M419.68 1192.8V1199.8M523.74 1192.8V1199.8M627.8 1192.8V1199.8M74 1179.4H81M74 1077.3H81M74 975.2H81" stroke="#333333" stroke-width="2.0"/>
<text x="107.5" y="1223.6" font-size="23" fill="#4D4D4D" text-anchor="middle">30</text>
<text x="211.56" y="1223.6" font-size="23" fill="#4D4D4D" text-anchor="middle">40</text>
<text x="315.62" y="1223.6" font-size="23" fill="#4D4D4D" text-anchor="middle">50</text>
<text x="419.68" y="1223.6" font-size="23" fill="#4D4D4D" text-anchor="middle">60</text>
<text x="523.74" y="1223.6" font-size="23" fill="#4D4D4D" text-anchor="middle">70</text>
<text x="627.8" y="1223.6" font-size="23" fill="#4D4D4D" text-anchor="middle">80</text>
<text x="67.5" y="1188.6" font-size="23" fill="#4D4D4D" text-anchor="end">0</text>
<text x="67.5" y="1086.5" font-size="23" fill="#4D4D4D" text-anchor="end">10</text>
<text x="67.5" y="984.4" font-size="23" fill="#4D4D4D" text-anchor="end">20</text>
<text x="73.49" y="865.5" font-size="33" font-weight="bold" fill="#000">E</text>
<text x="134.99" y="864.6" font-size="34.3" fill="#000">BBR</text>
<text transform="translate(29,1039.5) rotate(-90)" font-size="31.5" text-anchor="middle" fill="#000">BL [mg/mm]</text>
<g clip-path="url(#cF)"><line x1="794.98" y1="886.2" x2="794.98" y2="1192.8" stroke="#EBEBEB" stroke-width="1.1"/><line x1="947.62" y1="886.2" x2="947.62" y2="1192.8" stroke="#EBEBEB" stroke-width="1.1"/><line x1="1100.25" y1="886.2" x2="1100.25" y2="1192.8" stroke="#EBEBEB" stroke-width="1.1"/><line x1="1252.88" y1="886.2" x2="1252.88" y2="1192.8" stroke="#EBEBEB" stroke-width="1.1"/><line x1="1405.52" y1="886.2" x2="1405.52" y2="1192.8" stroke="#EBEBEB" stroke-width="1.1"/><line x1="778.8" y1="1143.91" x2="1445" y2="1143.91" stroke="#EBEBEB" stroke-width="1.1"/><line x1="778.8" y1="1084.94" x2="1445" y2="1084.94" stroke="#EBEBEB" stroke-width="1.1"/><line x1="778.8" y1="1025.96" x2="1445" y2="1025.96" stroke="#EBEBEB" stroke-width="1.1"/><line x1="778.8" y1="966.99" x2="1445" y2="966.99" stroke="#EBEBEB" stroke-width="1.1"/><line x1="778.8" y1="908.01" x2="1445" y2="908.01" stroke="#EBEBEB" stroke-width="1.1"/><line x1="871.3" y1="886.2" x2="871.3" y2="1192.8" stroke="#EBEBEB" stroke-width="2.1"/><line x1="1023.93" y1="886.2" x2="1023.93" y2="1192.8" stroke="#EBEBEB" stroke-width="2.1"/><line x1="1176.57" y1="886.2" x2="1176.57" y2="1192.8" stroke="#EBEBEB" stroke-width="2.1"/><line x1="1329.2" y1="886.2" x2="1329.2" y2="1192.8" stroke="#EBEBEB" stroke-width="2.1"/><line x1="778.8" y1="1173.4" x2="1445" y2="1173.4" stroke="#EBEBEB" stroke-width="2.1"/><line x1="778.8" y1="1114.43" x2="1445" y2="1114.43" stroke="#EBEBEB" stroke-width="2.1"/><line x1="778.8" y1="1055.45" x2="1445" y2="1055.45" stroke="#EBEBEB" stroke-width="2.1"/><line x1="778.8" y1="996.48" x2="1445" y2="996.48" stroke="#EBEBEB" stroke-width="2.1"/><line x1="778.8" y1="937.5" x2="1445" y2="937.5" stroke="#EBEBEB" stroke-width="2.1"/><circle cx="853.3" cy="1094.7" r="8.7" fill="none" stroke="#1B9E77" stroke-width="1.35"/><circle cx="815" cy="1129.4" r="8.7" fill="none" stroke="#1B9E77" stroke-width="1.35"/><circle cx="852.6" cy="1136.9" r="8.7" fill="none" stroke="#1B9E77" stroke-width="1.35"/><circle cx="812.2" cy="1171" r="8.7" fill="none" stroke="#1B9E77" stroke-width="1.35"/><circle cx="817.9" cy="1172.1" r="8.7" fill="none" stroke="#1B9E77" stroke-width="1.35"/><circle cx="821" cy="1162.8" r="8.7" fill="none" stroke="#1B9E77" stroke-width="1.35"/><circle cx="840.7" cy="1171" r="8.7" fill="none" stroke="#1B9E77" stroke-width="1.35"/><circle cx="842.8" cy="1168" r="8.7" fill="none" stroke="#1B9E77" stroke-width="1.35"/><circle cx="837.6" cy="1162.8" r="8.7" fill="none" stroke="#1B9E77" stroke-width="1.35"/><path d="M891.9 1118.8L910.5 1137.4M891.9 1137.4L910.5 1118.8" stroke="#1B9E77" stroke-width="1.35"/><path d="M911.6 1122.4L930.2 1141M911.6 1141L930.2 1122.4" stroke="#1B9E77" stroke-width="1.35"/><path d="M871.7 1132.8L890.3 1151.4M871.7 1151.4L890.3 1132.8" stroke="#1B9E77" stroke-width="1.35"/><path d="M853.1 1145.2L871.7 1163.8M853.1 1163.8L871.7 1145.2" stroke="#1B9E77" stroke-width="1.35"/><path d="M863.5 1149.3L882.1 1167.9M863.5 1167.9L882.1 1149.3" stroke="#1B9E77" stroke-width="1.35"/><path d="M868.6 1158.6L887.2 1177.2M868.6 1177.2L887.2 1158.6" stroke="#1B9E77" stroke-width="1.35"/><path d="M870.7 1163.8L889.3 1182.4M870.7 1182.4L889.3 1163.8" stroke="#1B9E77" stroke-width="1.35"/><path d="M884.1 1163.8L902.7 1182.4M884.1 1182.4L902.7 1163.8" stroke="#1B9E77" stroke-width="1.35"/><path d="M892.4 1160.7L911 1179.3M892.4 1179.3L911 1160.7" stroke="#1B9E77" stroke-width="1.35"/><path d="M894.5 1163.8L913.1 1182.4M894.5 1182.4L913.1 1163.8" stroke="#1B9E77" stroke-width="1.35"/><rect x="1059.1" y="1055.3" width="17.6" height="17.6" fill="none" stroke="#1B9E77" stroke-width="1.35"/><rect x="1089.2" y="1047.7" width="17.6" height="17.6" fill="none" stroke="#1B9E77" stroke-width="1.35"/><rect x="1079.4" y="1075.6" width="17.6" height="17.6" fill="none" stroke="#1B9E77" stroke-width="1.35"/><rect x="1082.8" y="1093" width="17.6" height="17.6" fill="none" stroke="#1B9E77" stroke-width="1.35"/><rect x="1083.9" y="1106.7" width="17.6" height="17.6" fill="none" stroke="#1B9E77" stroke-width="1.35"/><rect x="1111.2" y="1101" width="17.6" height="17.6" fill="none" stroke="#1B9E77" stroke-width="1.35"/><rect x="1061.9" y="1121.9" width="17.6" height="17.6" fill="none" stroke="#1B9E77" stroke-width="1.35"/><rect x="1050.5" y="1138.9" width="17.6" height="17.6" fill="none" stroke="#1B9E77" stroke-width="1.35"/><rect x="1099.9" y="1142.4" width="17.6" height="17.6" fill="none" stroke="#1B9E77" stroke-width="1.35"/><rect x="1115.8" y="1138.2" width="17.6" height="17.6" fill="none" stroke="#1B9E77" stroke-width="1.35"/><rect x="1108.2" y="1150.3" width="17.6" height="17.6" fill="none" stroke="#1B9E77" stroke-width="1.35"/><path d="M1379.2 886.8L1392 899.6L1379.2 912.4L1366.4 899.6Z" fill="none" stroke="#1B9E77" stroke-width="1.35"/><path d="M1410.9 954.4L1423.7 967.2L1410.9 980L1398.1 967.2Z" fill="none" stroke="#1B9E77" stroke-width="1.35"/><path d="M1408.8 1018L1421.6 1030.8L1408.8 1043.6L1396 1030.8Z" fill="none" stroke="#1B9E77" stroke-width="1.35"/><path d="M1372.6 1037.2L1385.4 1050L1372.6 1062.8L1359.8 1050Z" fill="none" stroke="#1B9E77" stroke-width="1.35"/><path d="M1347.8 1078.1L1360.6 1090.9L1347.8 1103.7L1335 1090.9Z" fill="none" stroke="#1B9E77" stroke-width="1.35"/><path d="M1348.9 1082.2L1361.7 1095L1348.9 1107.8L1336.1 1095Z" fill="none" stroke="#1B9E77" stroke-width="1.35"/><path d="M1377 1077.2L1389.8 1090L1377 1102.8L1364.2 1090Z" fill="none" stroke="#1B9E77" stroke-width="1.35"/><path d="M1403.8 1087.2L1416.6 1100L1403.8 1112.8L1391 1100Z" fill="none" stroke="#1B9E77" stroke-width="1.35"/><path d="M1403.8 1097.1L1416.6 1109.9L1403.8 1122.7L1391 1109.9Z" fill="none" stroke="#1B9E77" stroke-width="1.35"/><path d="M1382.5 1136.8L1395.3 1149.6L1382.5 1162.4L1369.7 1149.6Z" fill="none" stroke="#1B9E77" stroke-width="1.35"/><path d="M1415.1 1151.6L1427.9 1164.4L1415.1 1177.2L1402.3 1164.4Z" fill="none" stroke="#1B9E77" stroke-width="1.35"/><polyline points="834,1154.3 890.3,1156.9 1094,1115.1 1386.1,1067.7" fill="none" stroke="#000" stroke-width="1.9" stroke-linejoin="round"/><path d="M834 1130.2V1178.3M809.1 1130.2H858.8M809.1 1178.3H858.8M818.4 1154.3H849.5M818.4 1152.8V1155.8M849.5 1152.8V1155.8M890.3 1140.5V1172.6M865.5 1140.5H915.7M865.5 1172.6H915.7M875 1156.9H906M875 1155.4V1158.4M906 1155.4V1158.4M1094 1080.2V1150.8M1069.2 1080.2H1119.7M1069.2 1150.8H1119.7M1071.9 1115.1H1117.4M1071.9 1113.6V1116.6M1117.4 1113.6V1116.6M1386.1 989.5V1145.4M1361 989.5H1410.9M1361 1145.4H1410.9M1361.3 1067.7H1410.9M1361.3 1066.2V1069.2M1410.9 1066.2V1069.2" stroke="#000" stroke-width="2.0" fill="none"/><circle cx="834" cy="1154.3" r="9.2" fill="#000"/><circle cx="890.3" cy="1156.9" r="9.2" fill="#000"/><circle cx="1094" cy="1115.1" r="9.2" fill="#000"/><circle cx="1386.1" cy="1067.7" r="9.2" fill="#000"/><text x="1252.5" y="1012.8" font-size="36" text-anchor="middle" fill="#000" stroke="#000" stroke-width="0.35">#</text></g>
<rect x="778.8" y="886.2" width="666.2" height="306.6" fill="none" stroke="#333333" stroke-width="1.6"/>
<path d="M871.3 1192.8V1199.8M1023.93 1192.8V1199.8M1176.57 1192.8V1199.8M1329.2 1192.8V1199.8M771.8 1173.4H778.8M771.8 1114.43H778.8M771.8 1055.45H778.8M771.8 996.48H778.8M771.8 937.5H778.8" stroke="#333333" stroke-width="2.0"/>
<text x="871.3" y="1223.6" font-size="23" fill="#4D4D4D" text-anchor="middle">50</text>
<text x="1023.93" y="1223.6" font-size="23" fill="#4D4D4D" text-anchor="middle">100</text>
<text x="1176.57" y="1223.6" font-size="23" fill="#4D4D4D" text-anchor="middle">150</text>
<text x="1329.2" y="1223.6" font-size="23" fill="#4D4D4D" text-anchor="middle">200</text>
<text x="765.3" y="1182.6" font-size="23" fill="#4D4D4D" text-anchor="end">0</text>
<text x="765.3" y="1123.63" font-size="23" fill="#4D4D4D" text-anchor="end">10</text>
<text x="765.3" y="1064.65" font-size="23" fill="#4D4D4D" text-anchor="end">20</text>
<text x="765.3" y="1005.68" font-size="23" fill="#4D4D4D" text-anchor="end">30</text>
<text x="765.3" y="946.7" font-size="23" fill="#4D4D4D" text-anchor="end">40</text>
<text x="779.59" y="865.2" font-size="33" font-weight="bold" fill="#000">F</text>
<text x="831.69" y="864.3" font-size="34.3" fill="#000">RSL</text>
<g clip-path="url(#cG)"><line x1="98.68" y1="1303.2" x2="98.68" y2="1573.2" stroke="#EBEBEB" stroke-width="1.1"/><line x1="245.52" y1="1303.2" x2="245.52" y2="1573.2" stroke="#EBEBEB" stroke-width="1.1"/><line x1="392.35" y1="1303.2" x2="392.35" y2="1573.2" stroke="#EBEBEB" stroke-width="1.1"/><line x1="539.18" y1="1303.2" x2="539.18" y2="1573.2" stroke="#EBEBEB" stroke-width="1.1"/><line x1="686.02" y1="1303.2" x2="686.02" y2="1573.2" stroke="#EBEBEB" stroke-width="1.1"/><line x1="80.8" y1="1518.7" x2="711" y2="1518.7" stroke="#EBEBEB" stroke-width="1.1"/><line x1="80.8" y1="1431.9" x2="711" y2="1431.9" stroke="#EBEBEB" stroke-width="1.1"/><line x1="80.8" y1="1345.1" x2="711" y2="1345.1" stroke="#EBEBEB" stroke-width="1.1"/><line x1="172.1" y1="1303.2" x2="172.1" y2="1573.2" stroke="#EBEBEB" stroke-width="2.1"/><line x1="318.93" y1="1303.2" x2="318.93" y2="1573.2" stroke="#EBEBEB" stroke-width="2.1"/><line x1="465.77" y1="1303.2" x2="465.77" y2="1573.2" stroke="#EBEBEB" stroke-width="2.1"/><line x1="612.6" y1="1303.2" x2="612.6" y2="1573.2" stroke="#EBEBEB" stroke-width="2.1"/><line x1="80.8" y1="1562.1" x2="711" y2="1562.1" stroke="#EBEBEB" stroke-width="2.1"/><line x1="80.8" y1="1475.3" x2="711" y2="1475.3" stroke="#EBEBEB" stroke-width="2.1"/><line x1="80.8" y1="1388.5" x2="711" y2="1388.5" stroke="#EBEBEB" stroke-width="2.1"/><circle cx="127.8" cy="1503.4" r="8.7" fill="none" stroke="#1B9E77" stroke-width="1.35"/><circle cx="121.4" cy="1527" r="8.7" fill="none" stroke="#1B9E77" stroke-width="1.35"/><circle cx="123.7" cy="1527.5" r="8.7" fill="none" stroke="#1B9E77" stroke-width="1.35"/><circle cx="126" cy="1528" r="8.7" fill="none" stroke="#1B9E77" stroke-width="1.35"/><circle cx="130.8" cy="1552.1" r="8.7" fill="none" stroke="#1B9E77" stroke-width="1.35"/><circle cx="139.5" cy="1542.1" r="8.7" fill="none" stroke="#1B9E77" stroke-width="1.35"/><circle cx="148.3" cy="1538.6" r="8.7" fill="none" stroke="#1B9E77" stroke-width="1.35"/><circle cx="134" cy="1531" r="8.7" fill="none" stroke="#1B9E77" stroke-width="1.35"/><path d="M163.7 1494.1L182.3 1512.7M163.7 1512.7L182.3 1494.1" stroke="#1B9E77" stroke-width="1.35"/><path d="M152.5 1504.7L171.1 1523.3M152.5 1523.3L171.1 1504.7" stroke="#1B9E77" stroke-width="1.35"/><path d="M137.3 1514.1L155.9 1532.7M137.3 1532.7L155.9 1514.1" stroke="#1B9E77" stroke-width="1.35"/><path d="M183 1509.4L201.6 1528M183 1528L201.6 1509.4" stroke="#1B9E77" stroke-width="1.35"/><path d="M170.1 1542.2L188.7 1560.8M170.1 1560.8L188.7 1542.2" stroke="#1B9E77" stroke-width="1.35"/><path d="M162.5 1552.7L181.1 1571.3M162.5 1571.3L181.1 1552.7" stroke="#1B9E77" stroke-width="1.35"/><path d="M234 1547.5L252.6 1566.1M234 1566.1L252.6 1547.5" stroke="#1B9E77" stroke-width="1.35"/><rect x="333.5" y="1412.3" width="17.6" height="17.6" fill="none" stroke="#1B9E77" stroke-width="1.35"/><rect x="275.9" y="1500" width="17.6" height="17.6" fill="none" stroke="#1B9E77" stroke-width="1.35"/><rect x="350.5" y="1485.6" width="17.6" height="17.6" fill="none" stroke="#1B9E77" stroke-width="1.35"/><rect x="393.1" y="1483.8" width="17.6" height="17.6" fill="none" stroke="#1B9E77" stroke-width="1.35"/><rect x="410.3" y="1495.3" width="17.6" height="17.6" fill="none" stroke="#1B9E77" stroke-width="1.35"/><rect x="340.9" y="1505.5" width="17.6" height="17.6" fill="none" stroke="#1B9E77" stroke-width="1.35"/><rect x="354.4" y="1509.9" width="17.6" height="17.6" fill="none" stroke="#1B9E77" stroke-width="1.35"/><rect x="336.8" y="1528.4" width="17.6" height="17.6" fill="none" stroke="#1B9E77" stroke-width="1.35"/><path d="M554 1302.6L566.8 1315.4L554 1328.2L541.2 1315.4Z" fill="none" stroke="#1B9E77" stroke-width="1.35"/><path d="M645.4 1320.4L658.2 1333.2L645.4 1346L632.6 1333.2Z" fill="none" stroke="#1B9E77" stroke-width="1.35"/><path d="M662.2 1443.3L675 1456.1L662.2 1468.9L649.4 1456.1Z" fill="none" stroke="#1B9E77" stroke-width="1.35"/><path d="M582.5 1471.2L595.3 1484L582.5 1496.8L569.7 1484Z" fill="none" stroke="#1B9E77" stroke-width="1.35"/><path d="M600 1475.7L612.8 1488.5L600 1501.3L587.2 1488.5Z" fill="none" stroke="#1B9E77" stroke-width="1.35"/><path d="M682.5 1478.2L695.3 1491L682.5 1503.8L669.7 1491Z" fill="none" stroke="#1B9E77" stroke-width="1.35"/><path d="M593.4 1505L606.2 1517.8L593.4 1530.6L580.6 1517.8Z" fill="none" stroke="#1B9E77" stroke-width="1.35"/><path d="M653.6 1530.6L666.4 1543.4L653.6 1556.2L640.8 1543.4Z" fill="none" stroke="#1B9E77" stroke-width="1.35"/><polyline points="131.1,1531 180.9,1531.6 358.9,1498.5 621.5,1453.6" fill="none" stroke="#000" stroke-width="1.9" stroke-linejoin="round"/><path d="M131.1 1515.2V1544.5M109 1515.2H153M109 1544.5H153M120 1531H142M120 1529.5V1532.5M142 1529.5V1532.5M180.9 1510.2V1553.6M158.9 1510.2H202.9M158.9 1553.6H202.9M150 1531.6H209.3M150 1530.1V1533.1M209.3 1530.1V1533.1M358.9 1464.5V1533.4M336.2 1464.5H380.8M336.2 1533.4H380.8M316.9 1498.5H399.6M316.9 1497V1500M399.6 1497V1500M621.5 1369.8V1537M599.1 1369.8H643.6M599.1 1537H643.6M576.2 1453.6H666.5M576.2 1452.1V1455.1M666.5 1452.1V1455.1" stroke="#000" stroke-width="2.0" fill="none"/><circle cx="131.1" cy="1531" r="9.2" fill="#000"/><circle cx="180.9" cy="1531.6" r="9.2" fill="#000"/><circle cx="358.9" cy="1498.5" r="9.2" fill="#000"/><circle cx="621.5" cy="1453.6" r="9.2" fill="#000"/><text x="465" y="1401.3" font-size="40.5" font-weight="bold" text-anchor="middle" fill="#000">*</text></g>
<rect x="80.8" y="1303.2" width="630.2" height="270" fill="none" stroke="#333333" stroke-width="1.6"/>
<path d="M172.1 1573.2V1580.2M318.93 1573.2V1580.2M465.77 1573.2V1580.2M612.6 1573.2V1580.2M73.8 1562.1H80.8M73.8 1475.3H80.8M73.8 1388.5H80.8" stroke="#333333" stroke-width="2.0"/>
<text x="172.1" y="1604" font-size="23" fill="#4D4D4D" text-anchor="middle">50</text>
<text x="318.93" y="1604" font-size="23" fill="#4D4D4D" text-anchor="middle">100</text>
<text x="465.77" y="1604" font-size="23" fill="#4D4D4D" text-anchor="middle">150</text>
<text x="612.6" y="1604" font-size="23" fill="#4D4D4D" text-anchor="middle">200</text>
<text x="67.3" y="1571.3" font-size="23" fill="#4D4D4D" text-anchor="end">0</text>
<text x="67.3" y="1484.5" font-size="23" fill="#4D4D4D" text-anchor="end">10</text>
<text x="67.3" y="1397.7" font-size="23" fill="#4D4D4D" text-anchor="end">20</text>
<text x="75.25" y="1279.9" font-size="33" font-weight="bold" fill="#000">G</text>
<text x="139.63" y="1281.2" font-size="34.3" fill="#000">AGBRESA</text>
<text transform="translate(29,1438.2) rotate(-90)" font-size="31.5" text-anchor="middle" fill="#000">BL [mg/mm]</text>
<text x="395.9" y="1638.6" font-size="31" text-anchor="middle" fill="#000">Endocortical Circumference [mm]</text>
<g clip-path="url(#cH)"><line x1="820.65" y1="1303.2" x2="820.65" y2="1573.3" stroke="#EBEBEB" stroke-width="1.1"/><line x1="962.75" y1="1303.2" x2="962.75" y2="1573.3" stroke="#EBEBEB" stroke-width="1.1"/><line x1="1104.85" y1="1303.2" x2="1104.85" y2="1573.3" stroke="#EBEBEB" stroke-width="1.1"/><line x1="1246.95" y1="1303.2" x2="1246.95" y2="1573.3" stroke="#EBEBEB" stroke-width="1.1"/><line x1="1389.05" y1="1303.2" x2="1389.05" y2="1573.3" stroke="#EBEBEB" stroke-width="1.1"/><line x1="778.8" y1="1527.6" x2="1444.7" y2="1527.6" stroke="#EBEBEB" stroke-width="1.1"/><line x1="778.8" y1="1462.8" x2="1444.7" y2="1462.8" stroke="#EBEBEB" stroke-width="1.1"/><line x1="778.8" y1="1398" x2="1444.7" y2="1398" stroke="#EBEBEB" stroke-width="1.1"/><line x1="778.8" y1="1333.2" x2="1444.7" y2="1333.2" stroke="#EBEBEB" stroke-width="1.1"/><line x1="891.7" y1="1303.2" x2="891.7" y2="1573.3" stroke="#EBEBEB" stroke-width="2.1"/><line x1="1033.8" y1="1303.2" x2="1033.8" y2="1573.3" stroke="#EBEBEB" stroke-width="2.1"/><line x1="1175.9" y1="1303.2" x2="1175.9" y2="1573.3" stroke="#EBEBEB" stroke-width="2.1"/><line x1="1318" y1="1303.2" x2="1318" y2="1573.3" stroke="#EBEBEB" stroke-width="2.1"/><line x1="778.8" y1="1560" x2="1444.7" y2="1560" stroke="#EBEBEB" stroke-width="2.1"/><line x1="778.8" y1="1495.2" x2="1444.7" y2="1495.2" stroke="#EBEBEB" stroke-width="2.1"/><line x1="778.8" y1="1430.4" x2="1444.7" y2="1430.4" stroke="#EBEBEB" stroke-width="2.1"/><line x1="778.8" y1="1365.6" x2="1444.7" y2="1365.6" stroke="#EBEBEB" stroke-width="2.1"/><circle cx="809.18" cy="1557.08" r="8.7" fill="none" stroke="#BEBEBE" stroke-width="1.35"/><circle cx="815.04" cy="1559.25" r="8.7" fill="none" stroke="#BEBEBE" stroke-width="1.35"/><circle cx="831.63" cy="1559.93" r="8.7" fill="none" stroke="#BEBEBE" stroke-width="1.35"/><circle cx="835.32" cy="1548.53" r="8.7" fill="none" stroke="#BEBEBE" stroke-width="1.35"/><circle cx="844.42" cy="1550.41" r="8.7" fill="none" stroke="#BEBEBE" stroke-width="1.35"/><circle cx="841.71" cy="1553.73" r="8.7" fill="none" stroke="#BEBEBE" stroke-width="1.35"/><circle cx="838.13" cy="1555.03" r="8.7" fill="none" stroke="#BEBEBE" stroke-width="1.35"/><circle cx="847.08" cy="1556.27" r="8.7" fill="none" stroke="#BEBEBE" stroke-width="1.35"/><path d="M902.08 1542.48L920.68 1561.08M902.08 1561.08L920.68 1542.48" stroke="#BEBEBE" stroke-width="1.35"/><path d="M873.13 1545.78L891.73 1564.38M873.13 1564.38L891.73 1545.78" stroke="#BEBEBE" stroke-width="1.35"/><path d="M890.75 1546.05L909.35 1564.65M890.75 1564.65L909.35 1546.05" stroke="#BEBEBE" stroke-width="1.35"/><path d="M862.23 1548.29L880.83 1566.89M862.23 1566.89L880.83 1548.29" stroke="#BEBEBE" stroke-width="1.35"/><path d="M862.99 1548.65L881.59 1567.25M862.99 1567.25L881.59 1548.65" stroke="#BEBEBE" stroke-width="1.35"/><path d="M916.01 1547.9L934.61 1566.5M916.01 1566.5L934.61 1547.9" stroke="#BEBEBE" stroke-width="1.35"/><path d="M895.47 1549.25L914.07 1567.85M895.47 1567.85L914.07 1549.25" stroke="#BEBEBE" stroke-width="1.35"/><path d="M886.85 1550.5L905.45 1569.1M886.85 1569.1L905.45 1550.5" stroke="#BEBEBE" stroke-width="1.35"/><rect x="1109.85" y="1530.25" width="17.6" height="17.6" fill="none" stroke="#BEBEBE" stroke-width="1.35"/><rect x="1069.57" y="1535.18" width="17.6" height="17.6" fill="none" stroke="#BEBEBE" stroke-width="1.35"/><rect x="1085.34" y="1540.55" width="17.6" height="17.6" fill="none" stroke="#BEBEBE" stroke-width="1.35"/><rect x="1102.47" y="1541.91" width="17.6" height="17.6" fill="none" stroke="#BEBEBE" stroke-width="1.35"/><rect x="1040.18" y="1547.5" width="17.6" height="17.6" fill="none" stroke="#BEBEBE" stroke-width="1.35"/><rect x="1073.41" y="1549.31" width="17.6" height="17.6" fill="none" stroke="#BEBEBE" stroke-width="1.35"/><rect x="1090.38" y="1549.36" width="17.6" height="17.6" fill="none" stroke="#BEBEBE" stroke-width="1.35"/><rect x="1105.67" y="1549.93" width="17.6" height="17.6" fill="none" stroke="#BEBEBE" stroke-width="1.35"/><circle cx="859.14" cy="1549.37" r="8.7" fill="none" stroke="#BEBEBE" stroke-width="1.35"/><circle cx="838.73" cy="1553.4" r="8.7" fill="none" stroke="#BEBEBE" stroke-width="1.35"/><circle cx="842.26" cy="1554.14" r="8.7" fill="none" stroke="#BEBEBE" stroke-width="1.35"/><circle cx="859.43" cy="1554.93" r="8.7" fill="none" stroke="#BEBEBE" stroke-width="1.35"/><circle cx="853.69" cy="1558.21" r="8.7" fill="none" stroke="#BEBEBE" stroke-width="1.35"/><circle cx="845.79" cy="1559.1" r="8.7" fill="none" stroke="#BEBEBE" stroke-width="1.35"/><circle cx="849.57" cy="1559.42" r="8.7" fill="none" stroke="#BEBEBE" stroke-width="1.35"/><path d="M915.49 1536.88L934.09 1555.48M915.49 1555.48L934.09 1536.88" stroke="#BEBEBE" stroke-width="1.35"/><path d="M905.09 1544.36L923.69 1562.96M905.09 1562.96L923.69 1544.36" stroke="#BEBEBE" stroke-width="1.35"/><path d="M916.28 1546.81L934.88 1565.41M916.28 1565.41L934.88 1546.81" stroke="#BEBEBE" stroke-width="1.35"/><path d="M890.42 1547.99L909.02 1566.59M890.42 1566.59L909.02 1547.99" stroke="#BEBEBE" stroke-width="1.35"/><path d="M896.75 1547.28L915.35 1565.88M896.75 1565.88L915.35 1547.28" stroke="#BEBEBE" stroke-width="1.35"/><path d="M904.65 1547.99L923.25 1566.59M904.65 1566.59L923.25 1547.99" stroke="#BEBEBE" stroke-width="1.35"/><path d="M905.09 1548.85L923.69 1567.45M905.09 1567.45L923.69 1548.85" stroke="#BEBEBE" stroke-width="1.35"/><path d="M905.09 1549.41L923.69 1568.01M905.09 1568.01L923.69 1549.41" stroke="#BEBEBE" stroke-width="1.35"/><rect x="1113.68" y="1525.97" width="17.6" height="17.6" fill="none" stroke="#BEBEBE" stroke-width="1.35"/><rect x="1076.39" y="1536.23" width="17.6" height="17.6" fill="none" stroke="#BEBEBE" stroke-width="1.35"/><rect x="1074.87" y="1538.56" width="17.6" height="17.6" fill="none" stroke="#BEBEBE" stroke-width="1.35"/><rect x="1077.87" y="1539.21" width="17.6" height="17.6" fill="none" stroke="#BEBEBE" stroke-width="1.35"/><rect x="1061.48" y="1545.04" width="17.6" height="17.6" fill="none" stroke="#BEBEBE" stroke-width="1.35"/><rect x="1091.65" y="1544.17" width="17.6" height="17.6" fill="none" stroke="#BEBEBE" stroke-width="1.35"/><rect x="1110" y="1548.41" width="17.6" height="17.6" fill="none" stroke="#BEBEBE" stroke-width="1.35"/><circle cx="827.61" cy="1467.56" r="8.7" fill="none" stroke="#BEBEBE" stroke-width="1.35"/><circle cx="838.03" cy="1528.55" r="8.7" fill="none" stroke="#BEBEBE" stroke-width="1.35"/><circle cx="838.03" cy="1533.15" r="8.7" fill="none" stroke="#BEBEBE" stroke-width="1.35"/><circle cx="835.75" cy="1536.99" r="8.7" fill="none" stroke="#BEBEBE" stroke-width="1.35"/><circle cx="820.47" cy="1558.7" r="8.7" fill="none" stroke="#BEBEBE" stroke-width="1.35"/><circle cx="829.79" cy="1555.78" r="8.7" fill="none" stroke="#BEBEBE" stroke-width="1.35"/><circle cx="830.89" cy="1558.7" r="8.7" fill="none" stroke="#BEBEBE" stroke-width="1.35"/><circle cx="833.07" cy="1557.39" r="8.7" fill="none" stroke="#BEBEBE" stroke-width="1.35"/><circle cx="852.21" cy="1559.54" r="8.7" fill="none" stroke="#BEBEBE" stroke-width="1.35"/><circle cx="853.9" cy="1545.58" r="8.7" fill="none" stroke="#BEBEBE" stroke-width="1.35"/><circle cx="860.95" cy="1552.33" r="8.7" fill="none" stroke="#BEBEBE" stroke-width="1.35"/><circle cx="863.72" cy="1548.95" r="8.7" fill="none" stroke="#BEBEBE" stroke-width="1.35"/><circle cx="872.45" cy="1557.85" r="8.7" fill="none" stroke="#BEBEBE" stroke-width="1.35"/><path d="M875.26 1521.01L893.86 1539.61M875.26 1539.61L893.86 1521.01" stroke="#BEBEBE" stroke-width="1.35"/><path d="M878.53 1522.78L897.13 1541.38M878.53 1541.38L897.13 1522.78" stroke="#BEBEBE" stroke-width="1.35"/><path d="M876.35 1527.84L894.95 1546.44M876.35 1546.44L894.95 1527.84" stroke="#BEBEBE" stroke-width="1.35"/><path d="M889.44 1529.53L908.04 1548.13M889.44 1548.13L908.04 1529.53" stroke="#BEBEBE" stroke-width="1.35"/><path d="M899.36 1531.21L917.96 1549.81M899.36 1549.81L917.96 1531.21" stroke="#BEBEBE" stroke-width="1.35"/><path d="M909.19 1537.12L927.79 1555.72M909.19 1555.72L927.79 1537.12" stroke="#BEBEBE" stroke-width="1.35"/><path d="M917.92 1546.48L936.52 1565.08M917.92 1565.08L936.52 1546.48" stroke="#BEBEBE" stroke-width="1.35"/><path d="M868.71 1546.48L887.31 1565.08M868.71 1565.08L887.31 1546.48" stroke="#BEBEBE" stroke-width="1.35"/><path d="M871.98 1550.7L890.58 1569.3M871.98 1569.3L890.58 1550.7" stroke="#BEBEBE" stroke-width="1.35"/><path d="M883.99 1551.47L902.59 1570.07M883.99 1570.07L902.59 1551.47" stroke="#BEBEBE" stroke-width="1.35"/><path d="M895.99 1550.7L914.59 1569.3M895.99 1569.3L914.59 1550.7" stroke="#BEBEBE" stroke-width="1.35"/><path d="M901.55 1553.23L920.15 1571.83M901.55 1571.83L920.15 1553.23" stroke="#BEBEBE" stroke-width="1.35"/><path d="M892.72 1545.56L911.32 1564.16M892.72 1564.16L911.32 1545.56" stroke="#BEBEBE" stroke-width="1.35"/><rect x="1099.57" y="1499.42" width="17.6" height="17.6" fill="none" stroke="#BEBEBE" stroke-width="1.35"/><rect x="1088.06" y="1516.6" width="17.6" height="17.6" fill="none" stroke="#BEBEBE" stroke-width="1.35"/><rect x="1106.91" y="1517.83" width="17.6" height="17.6" fill="none" stroke="#BEBEBE" stroke-width="1.35"/><rect x="1053.14" y="1528.65" width="17.6" height="17.6" fill="none" stroke="#BEBEBE" stroke-width="1.35"/><rect x="1034.69" y="1545.75" width="17.6" height="17.6" fill="none" stroke="#BEBEBE" stroke-width="1.35"/><rect x="1065.84" y="1544.22" width="17.6" height="17.6" fill="none" stroke="#BEBEBE" stroke-width="1.35"/><rect x="1076.95" y="1532.1" width="17.6" height="17.6" fill="none" stroke="#BEBEBE" stroke-width="1.35"/><rect x="1081.52" y="1527.34" width="17.6" height="17.6" fill="none" stroke="#BEBEBE" stroke-width="1.35"/><rect x="1087.17" y="1541.99" width="17.6" height="17.6" fill="none" stroke="#BEBEBE" stroke-width="1.35"/><rect x="1103.64" y="1529.87" width="17.6" height="17.6" fill="none" stroke="#BEBEBE" stroke-width="1.35"/><rect x="1106.52" y="1535.63" width="17.6" height="17.6" fill="none" stroke="#BEBEBE" stroke-width="1.35"/><path d="M1345.78 1342.9L1358.58 1355.7L1345.78 1368.5L1332.98 1355.7Z" fill="none" stroke="#BEBEBE" stroke-width="1.35"/><path d="M1335.46 1380.03L1348.26 1392.83L1335.46 1405.63L1322.66 1392.83Z" fill="none" stroke="#BEBEBE" stroke-width="1.35"/><path d="M1358.38 1386.02L1371.18 1398.82L1358.38 1411.62L1345.58 1398.82Z" fill="none" stroke="#BEBEBE" stroke-width="1.35"/><path d="M1331.59 1485.44L1344.39 1498.24L1331.59 1511.04L1318.79 1498.24Z" fill="none" stroke="#BEBEBE" stroke-width="1.35"/><path d="M1329.91 1490.74L1342.71 1503.54L1329.91 1516.34L1317.11 1503.54Z" fill="none" stroke="#BEBEBE" stroke-width="1.35"/><path d="M1338.54 1510.76L1351.34 1523.56L1338.54 1536.36L1325.74 1523.56Z" fill="none" stroke="#BEBEBE" stroke-width="1.35"/><path d="M1340.22 1515.44L1353.02 1528.24L1340.22 1541.04L1327.42 1528.24Z" fill="none" stroke="#BEBEBE" stroke-width="1.35"/><path d="M1354.91 1514.14L1367.71 1526.94L1354.91 1539.74L1342.11 1526.94Z" fill="none" stroke="#BEBEBE" stroke-width="1.35"/><path d="M1381.69 1507.46L1394.49 1520.26L1381.69 1533.06L1368.89 1520.26Z" fill="none" stroke="#BEBEBE" stroke-width="1.35"/><path d="M1355.8 1529.48L1368.6 1542.28L1355.8 1555.08L1343 1542.28Z" fill="none" stroke="#BEBEBE" stroke-width="1.35"/><path d="M1350.64 1536.15L1363.44 1548.95L1350.64 1561.75L1337.84 1548.95Z" fill="none" stroke="#BEBEBE" stroke-width="1.35"/><path d="M1385.96 1532.09L1398.76 1544.89L1385.96 1557.69L1373.16 1544.89Z" fill="none" stroke="#BEBEBE" stroke-width="1.35"/><path d="M1372.17 1545.44L1384.97 1558.24L1372.17 1571.04L1359.37 1558.24Z" fill="none" stroke="#BEBEBE" stroke-width="1.35"/><circle cx="862.94" cy="1530.44" r="8.7" fill="none" stroke="#BEBEBE" stroke-width="1.35"/><circle cx="877.44" cy="1541.99" r="8.7" fill="none" stroke="#BEBEBE" stroke-width="1.35"/><circle cx="860.07" cy="1545.66" r="8.7" fill="none" stroke="#BEBEBE" stroke-width="1.35"/><circle cx="841.5" cy="1558.51" r="8.7" fill="none" stroke="#BEBEBE" stroke-width="1.35"/><circle cx="858.87" cy="1556.76" r="8.7" fill="none" stroke="#BEBEBE" stroke-width="1.35"/><circle cx="872.17" cy="1551.34" r="8.7" fill="none" stroke="#BEBEBE" stroke-width="1.35"/><rect x="1070.05" y="1507.13" width="17.6" height="17.6" fill="none" stroke="#BEBEBE" stroke-width="1.35"/><rect x="1081.91" y="1507.13" width="17.6" height="17.6" fill="none" stroke="#BEBEBE" stroke-width="1.35"/><rect x="1131.04" y="1511.24" width="17.6" height="17.6" fill="none" stroke="#BEBEBE" stroke-width="1.35"/><rect x="1067.29" y="1528.11" width="17.6" height="17.6" fill="none" stroke="#BEBEBE" stroke-width="1.35"/><rect x="1069.33" y="1538.61" width="17.6" height="17.6" fill="none" stroke="#BEBEBE" stroke-width="1.35"/><rect x="1081.19" y="1542.98" width="17.6" height="17.6" fill="none" stroke="#BEBEBE" stroke-width="1.35"/><rect x="1108.15" y="1526.63" width="17.6" height="17.6" fill="none" stroke="#BEBEBE" stroke-width="1.35"/><rect x="1095.21" y="1531.61" width="17.6" height="17.6" fill="none" stroke="#BEBEBE" stroke-width="1.35"/><path d="M1371.8 1301.73L1384.6 1314.53L1371.8 1327.33L1359 1314.53Z" fill="none" stroke="#BEBEBE" stroke-width="1.35"/><path d="M1393.48 1403.08L1406.28 1415.88L1393.48 1428.68L1380.68 1415.88Z" fill="none" stroke="#BEBEBE" stroke-width="1.35"/><path d="M1342.68 1429.93L1355.48 1442.73L1342.68 1455.53L1329.88 1442.73Z" fill="none" stroke="#BEBEBE" stroke-width="1.35"/><path d="M1358.62 1432.29L1371.42 1445.09L1358.62 1457.89L1345.82 1445.09Z" fill="none" stroke="#BEBEBE" stroke-width="1.35"/><path d="M1314.29 1441.39L1327.09 1454.19L1314.29 1466.99L1301.49 1454.19Z" fill="none" stroke="#BEBEBE" stroke-width="1.35"/><path d="M1414.93 1448.21L1427.73 1461.01L1414.93 1473.81L1402.13 1461.01Z" fill="none" stroke="#BEBEBE" stroke-width="1.35"/><path d="M1414.93 1471.03L1427.73 1483.83L1414.93 1496.63L1402.13 1483.83Z" fill="none" stroke="#BEBEBE" stroke-width="1.35"/><path d="M1375.99 1505.22L1388.79 1518.02L1375.99 1530.82L1363.19 1518.02Z" fill="none" stroke="#BEBEBE" stroke-width="1.35"/><path d="M1388.45 1511.35L1401.25 1524.15L1388.45 1536.95L1375.65 1524.15Z" fill="none" stroke="#BEBEBE" stroke-width="1.35"/><path d="M1357.66 1533.38L1370.46 1546.18L1357.66 1558.98L1344.86 1546.18Z" fill="none" stroke="#BEBEBE" stroke-width="1.35"/><rect x="983.1" y="1462.22" width="17.6" height="17.6" fill="none" stroke="#BEBEBE" stroke-width="1.35"/><rect x="831.03" y="1475.39" width="17.6" height="17.6" fill="none" stroke="#BEBEBE" stroke-width="1.35"/><rect x="841.11" y="1472.94" width="17.6" height="17.6" fill="none" stroke="#BEBEBE" stroke-width="1.35"/><rect x="912.69" y="1485.19" width="17.6" height="17.6" fill="none" stroke="#BEBEBE" stroke-width="1.35"/><rect x="867.55" y="1503.57" width="17.6" height="17.6" fill="none" stroke="#BEBEBE" stroke-width="1.35"/><rect x="926.48" y="1513.21" width="17.6" height="17.6" fill="none" stroke="#BEBEBE" stroke-width="1.35"/><rect x="853.78" y="1520.51" width="17.6" height="17.6" fill="none" stroke="#BEBEBE" stroke-width="1.35"/><rect x="880.14" y="1523.88" width="17.6" height="17.6" fill="none" stroke="#BEBEBE" stroke-width="1.35"/><rect x="850.53" y="1532.38" width="17.6" height="17.6" fill="none" stroke="#BEBEBE" stroke-width="1.35"/><rect x="845.45" y="1541.52" width="17.6" height="17.6" fill="none" stroke="#BEBEBE" stroke-width="1.35"/><circle cx="835.13" cy="1553.78" r="8.7" fill="none" stroke="#BEBEBE" stroke-width="1.35"/><circle cx="844.04" cy="1545.12" r="8.7" fill="none" stroke="#BEBEBE" stroke-width="1.35"/><circle cx="861.93" cy="1541.18" r="8.7" fill="none" stroke="#BEBEBE" stroke-width="1.35"/><circle cx="859.77" cy="1550.51" r="8.7" fill="none" stroke="#BEBEBE" stroke-width="1.35"/><circle cx="869.3" cy="1536.9" r="8.7" fill="none" stroke="#BEBEBE" stroke-width="1.35"/><circle cx="873.61" cy="1539.18" r="8.7" fill="none" stroke="#BEBEBE" stroke-width="1.35"/><circle cx="883.47" cy="1527.66" r="8.7" fill="none" stroke="#BEBEBE" stroke-width="1.35"/><circle cx="883.15" cy="1543.44" r="8.7" fill="none" stroke="#BEBEBE" stroke-width="1.35"/><circle cx="886.53" cy="1547.97" r="8.7" fill="none" stroke="#BEBEBE" stroke-width="1.35"/><circle cx="864.9" cy="1557.97" r="8.7" fill="none" stroke="#BEBEBE" stroke-width="1.35"/><path d="M912.44 1530.83L931.04 1549.43M912.44 1549.43L931.04 1530.83" stroke="#BEBEBE" stroke-width="1.35"/><path d="M892.66 1541.53L911.26 1560.13M892.66 1560.13L911.26 1541.53" stroke="#BEBEBE" stroke-width="1.35"/><path d="M893.65 1546L912.25 1564.6M893.65 1564.6L912.25 1546" stroke="#BEBEBE" stroke-width="1.35"/><path d="M900.64 1545.84L919.24 1564.44M900.64 1564.44L919.24 1545.84" stroke="#BEBEBE" stroke-width="1.35"/><path d="M917.57 1540.96L936.17 1559.56M917.57 1559.56L936.17 1540.96" stroke="#BEBEBE" stroke-width="1.35"/><path d="M921.53 1550.83L940.13 1569.43M921.53 1569.43L940.13 1550.83" stroke="#BEBEBE" stroke-width="1.35"/><path d="M928.44 1544.86L947.04 1563.46M928.44 1563.46L947.04 1544.86" stroke="#BEBEBE" stroke-width="1.35"/><path d="M929.64 1547.62L948.24 1566.22M929.64 1566.22L948.24 1547.62" stroke="#BEBEBE" stroke-width="1.35"/><path d="M935.19 1545.78L953.79 1564.38M935.19 1564.38L953.79 1545.78" stroke="#BEBEBE" stroke-width="1.35"/><path d="M937.95 1541.47L956.55 1560.07M937.95 1560.07L956.55 1541.47" stroke="#BEBEBE" stroke-width="1.35"/><circle cx="874.94" cy="1516.76" r="8.7" fill="none" stroke="#BEBEBE" stroke-width="1.35"/><circle cx="839.29" cy="1535.83" r="8.7" fill="none" stroke="#BEBEBE" stroke-width="1.35"/><circle cx="874.29" cy="1539.95" r="8.7" fill="none" stroke="#BEBEBE" stroke-width="1.35"/><circle cx="836.68" cy="1558.68" r="8.7" fill="none" stroke="#BEBEBE" stroke-width="1.35"/><circle cx="841.99" cy="1559.29" r="8.7" fill="none" stroke="#BEBEBE" stroke-width="1.35"/><circle cx="844.87" cy="1554.18" r="8.7" fill="none" stroke="#BEBEBE" stroke-width="1.35"/><circle cx="863.21" cy="1558.68" r="8.7" fill="none" stroke="#BEBEBE" stroke-width="1.35"/><circle cx="865.17" cy="1557.03" r="8.7" fill="none" stroke="#BEBEBE" stroke-width="1.35"/><circle cx="860.33" cy="1554.18" r="8.7" fill="none" stroke="#BEBEBE" stroke-width="1.35"/><path d="M910.24 1525.81L928.84 1544.41M910.24 1544.41L928.84 1525.81" stroke="#BEBEBE" stroke-width="1.35"/><path d="M928.58 1527.79L947.18 1546.39M928.58 1546.39L947.18 1527.79" stroke="#BEBEBE" stroke-width="1.35"/><path d="M891.43 1533.5L910.03 1552.1M891.43 1552.1L910.03 1533.5" stroke="#BEBEBE" stroke-width="1.35"/><path d="M874.11 1540.32L892.71 1558.92M874.11 1558.92L892.71 1540.32" stroke="#BEBEBE" stroke-width="1.35"/><path d="M883.8 1542.57L902.4 1561.17M883.8 1561.17L902.4 1542.57" stroke="#BEBEBE" stroke-width="1.35"/><path d="M888.54 1547.68L907.14 1566.28M888.54 1566.28L907.14 1547.68" stroke="#BEBEBE" stroke-width="1.35"/><path d="M890.5 1550.54L909.1 1569.14M890.5 1569.14L909.1 1550.54" stroke="#BEBEBE" stroke-width="1.35"/><path d="M902.97 1550.54L921.57 1569.14M902.97 1569.14L921.57 1550.54" stroke="#BEBEBE" stroke-width="1.35"/><path d="M910.7 1548.83L929.3 1567.43M910.7 1567.43L929.3 1548.83" stroke="#BEBEBE" stroke-width="1.35"/><path d="M912.66 1550.54L931.26 1569.14M912.66 1569.14L931.26 1550.54" stroke="#BEBEBE" stroke-width="1.35"/><rect x="1065.93" y="1491.15" width="17.6" height="17.6" fill="none" stroke="#BEBEBE" stroke-width="1.35"/><rect x="1093.96" y="1486.98" width="17.6" height="17.6" fill="none" stroke="#BEBEBE" stroke-width="1.35"/><rect x="1084.83" y="1502.3" width="17.6" height="17.6" fill="none" stroke="#BEBEBE" stroke-width="1.35"/><rect x="1088" y="1511.86" width="17.6" height="17.6" fill="none" stroke="#BEBEBE" stroke-width="1.35"/><rect x="1089.02" y="1519.39" width="17.6" height="17.6" fill="none" stroke="#BEBEBE" stroke-width="1.35"/><rect x="1114.44" y="1516.26" width="17.6" height="17.6" fill="none" stroke="#BEBEBE" stroke-width="1.35"/><rect x="1068.54" y="1527.74" width="17.6" height="17.6" fill="none" stroke="#BEBEBE" stroke-width="1.35"/><rect x="1057.93" y="1537.08" width="17.6" height="17.6" fill="none" stroke="#BEBEBE" stroke-width="1.35"/><rect x="1103.92" y="1539" width="17.6" height="17.6" fill="none" stroke="#BEBEBE" stroke-width="1.35"/><rect x="1118.72" y="1536.7" width="17.6" height="17.6" fill="none" stroke="#BEBEBE" stroke-width="1.35"/><rect x="1111.64" y="1543.34" width="17.6" height="17.6" fill="none" stroke="#BEBEBE" stroke-width="1.35"/><path d="M1364.55 1396.78L1377.35 1409.58L1364.55 1422.38L1351.75 1409.58Z" fill="none" stroke="#BEBEBE" stroke-width="1.35"/><path d="M1394.06 1433.92L1406.86 1446.72L1394.06 1459.52L1381.26 1446.72Z" fill="none" stroke="#BEBEBE" stroke-width="1.35"/><path d="M1392.11 1468.86L1404.91 1481.66L1392.11 1494.46L1379.31 1481.66Z" fill="none" stroke="#BEBEBE" stroke-width="1.35"/><path d="M1358.4 1479.41L1371.2 1492.21L1358.4 1505.01L1345.6 1492.21Z" fill="none" stroke="#BEBEBE" stroke-width="1.35"/><path d="M1335.32 1501.88L1348.12 1514.68L1335.32 1527.48L1322.52 1514.68Z" fill="none" stroke="#BEBEBE" stroke-width="1.35"/><path d="M1336.34 1504.13L1349.14 1516.93L1336.34 1529.73L1323.54 1516.93Z" fill="none" stroke="#BEBEBE" stroke-width="1.35"/><path d="M1362.5 1501.38L1375.3 1514.18L1362.5 1526.98L1349.7 1514.18Z" fill="none" stroke="#BEBEBE" stroke-width="1.35"/><path d="M1387.45 1506.88L1400.25 1519.68L1387.45 1532.48L1374.65 1519.68Z" fill="none" stroke="#BEBEBE" stroke-width="1.35"/><path d="M1387.45 1512.31L1400.25 1525.11L1387.45 1537.91L1374.65 1525.11Z" fill="none" stroke="#BEBEBE" stroke-width="1.35"/><path d="M1367.62 1534.12L1380.42 1546.92L1367.62 1559.72L1354.82 1546.92Z" fill="none" stroke="#BEBEBE" stroke-width="1.35"/><path d="M1397.97 1542.26L1410.77 1555.06L1397.97 1567.86L1385.17 1555.06Z" fill="none" stroke="#BEBEBE" stroke-width="1.35"/><circle cx="848.83" cy="1538.09" r="8.7" fill="none" stroke="#BEBEBE" stroke-width="1.35"/><circle cx="842.63" cy="1546.9" r="8.7" fill="none" stroke="#BEBEBE" stroke-width="1.35"/><circle cx="844.86" cy="1547.08" r="8.7" fill="none" stroke="#BEBEBE" stroke-width="1.35"/><circle cx="847.09" cy="1547.27" r="8.7" fill="none" stroke="#BEBEBE" stroke-width="1.35"/><circle cx="851.73" cy="1556.27" r="8.7" fill="none" stroke="#BEBEBE" stroke-width="1.35"/><circle cx="860.15" cy="1552.53" r="8.7" fill="none" stroke="#BEBEBE" stroke-width="1.35"/><circle cx="868.67" cy="1551.23" r="8.7" fill="none" stroke="#BEBEBE" stroke-width="1.35"/><circle cx="854.83" cy="1548.39" r="8.7" fill="none" stroke="#BEBEBE" stroke-width="1.35"/><path d="M883.27 1528.79L901.87 1547.39M883.27 1547.39L901.87 1528.79" stroke="#BEBEBE" stroke-width="1.35"/><path d="M872.43 1532.75L891.03 1551.35M872.43 1551.35L891.03 1532.75" stroke="#BEBEBE" stroke-width="1.35"/><path d="M857.72 1536.25L876.32 1554.85M857.72 1554.85L876.32 1536.25" stroke="#BEBEBE" stroke-width="1.35"/><path d="M901.95 1534.5L920.55 1553.1M901.95 1553.1L920.55 1534.5" stroke="#BEBEBE" stroke-width="1.35"/><path d="M889.46 1546.74L908.06 1565.34M889.46 1565.34L908.06 1546.74" stroke="#BEBEBE" stroke-width="1.35"/><path d="M882.11 1550.66L900.71 1569.26M882.11 1569.26L900.71 1550.66" stroke="#BEBEBE" stroke-width="1.35"/><path d="M951.3 1548.72L969.9 1567.32M951.3 1567.32L969.9 1548.72" stroke="#BEBEBE" stroke-width="1.35"/><rect x="1047.61" y="1498.57" width="17.6" height="17.6" fill="none" stroke="#BEBEBE" stroke-width="1.35"/><rect x="991.87" y="1531.3" width="17.6" height="17.6" fill="none" stroke="#BEBEBE" stroke-width="1.35"/><rect x="1064.07" y="1525.93" width="17.6" height="17.6" fill="none" stroke="#BEBEBE" stroke-width="1.35"/><rect x="1105.29" y="1525.26" width="17.6" height="17.6" fill="none" stroke="#BEBEBE" stroke-width="1.35"/><rect x="1121.94" y="1529.55" width="17.6" height="17.6" fill="none" stroke="#BEBEBE" stroke-width="1.35"/><rect x="1054.77" y="1533.36" width="17.6" height="17.6" fill="none" stroke="#BEBEBE" stroke-width="1.35"/><rect x="1067.84" y="1535" width="17.6" height="17.6" fill="none" stroke="#BEBEBE" stroke-width="1.35"/><rect x="1050.81" y="1541.91" width="17.6" height="17.6" fill="none" stroke="#BEBEBE" stroke-width="1.35"/><path d="M1261.29 1455.11L1274.09 1467.91L1261.29 1480.71L1248.49 1467.91Z" fill="none" stroke="#BEBEBE" stroke-width="1.35"/><path d="M1349.74 1461.76L1362.54 1474.56L1349.74 1487.36L1336.94 1474.56Z" fill="none" stroke="#BEBEBE" stroke-width="1.35"/><path d="M1366 1507.63L1378.8 1520.43L1366 1533.23L1353.2 1520.43Z" fill="none" stroke="#BEBEBE" stroke-width="1.35"/><path d="M1288.87 1518.05L1301.67 1530.85L1288.87 1543.65L1276.07 1530.85Z" fill="none" stroke="#BEBEBE" stroke-width="1.35"/><path d="M1305.81 1519.73L1318.61 1532.53L1305.81 1545.33L1293.01 1532.53Z" fill="none" stroke="#BEBEBE" stroke-width="1.35"/><path d="M1385.65 1520.66L1398.45 1533.46L1385.65 1546.26L1372.85 1533.46Z" fill="none" stroke="#BEBEBE" stroke-width="1.35"/><path d="M1299.42 1530.66L1312.22 1543.46L1299.42 1556.26L1286.62 1543.46Z" fill="none" stroke="#BEBEBE" stroke-width="1.35"/><path d="M1357.68 1540.22L1370.48 1553.02L1357.68 1565.82L1344.88 1553.02Z" fill="none" stroke="#BEBEBE" stroke-width="1.35"/><polyline points="851.4,1547.2 906.2,1551.4 1062.1,1533.5 1357.5,1492.5" fill="none" stroke="#000" stroke-width="1.9" stroke-linejoin="round"/><path d="M851.4 1533.9V1561.4M826.9 1533.9H876.3M826.9 1561.4H876.3M833.8 1547.2H868.3M833.8 1545.7V1548.7M868.3 1545.7V1548.7M906.2 1543.5V1559M882.3 1543.5H930.6M882.3 1559H930.6M886 1551.4H927.6M886 1549.9V1552.9M927.6 1549.9V1552.9M1062.1 1513.5V1553.1M1037.9 1513.5H1086.6M1037.9 1553.1H1086.6M982.1 1533.5H1141.8M982.1 1532V1535M1141.8 1532V1535M1357.5 1435V1549M1333.5 1435H1381.5M1333.5 1549H1381.5M1323.5 1492.5H1390M1323.5 1491V1494M1390 1491V1494" stroke="#000" stroke-width="2.0" fill="none"/><circle cx="851.4" cy="1547.2" r="9.2" fill="#000"/><circle cx="906.2" cy="1551.4" r="9.2" fill="#000"/><circle cx="1062.1" cy="1533.5" r="9.2" fill="#000"/><circle cx="1357.5" cy="1492.5" r="9.2" fill="#000"/><text x="1245" y="1414.3" font-size="36" text-anchor="middle" fill="#000" stroke="#000" stroke-width="0.35">#</text></g>
<rect x="778.8" y="1303.2" width="665.9" height="270.1" fill="none" stroke="#333333" stroke-width="1.6"/>
<path d="M891.7 1573.3V1580.3M1033.8 1573.3V1580.3M1175.9 1573.3V1580.3M1318 1573.3V1580.3M771.8 1560H778.8M771.8 1495.2H778.8M771.8 1430.4H778.8M771.8 1365.6H778.8" stroke="#333333" stroke-width="2.0"/>
<text x="891.7" y="1604.1" font-size="23" fill="#4D4D4D" text-anchor="middle">50</text>
<text x="1033.8" y="1604.1" font-size="23" fill="#4D4D4D" text-anchor="middle">100</text>
<text x="1175.9" y="1604.1" font-size="23" fill="#4D4D4D" text-anchor="middle">150</text>
<text x="1318" y="1604.1" font-size="23" fill="#4D4D4D" text-anchor="middle">200</text>
<text x="765.3" y="1569.2" font-size="23" fill="#4D4D4D" text-anchor="end">0</text>
<text x="765.3" y="1504.4" font-size="23" fill="#4D4D4D" text-anchor="end">20</text>
<text x="765.3" y="1439.6" font-size="23" fill="#4D4D4D" text-anchor="end">40</text>
<text x="765.3" y="1374.8" font-size="23" fill="#4D4D4D" text-anchor="end">60</text>
<text x="780.19" y="1279.1" font-size="33" font-weight="bold" fill="#000">H</text>
<text x="835.03" y="1281.2" font-size="34.3" fill="#000">All Studies</text>
<text x="1111.75" y="1638.6" font-size="31" text-anchor="middle" fill="#000">Endocortical Circumference [mm]</text>
<rect x="96" y="1705" width="527.7" height="73.3" fill="none" stroke="#000" stroke-width="2.2"/><rect x="651.7" y="1705.2" width="702.1" height="73.1" fill="none" stroke="#000" stroke-width="2.2"/><circle cx="147.3" cy="1742.3" r="6.6" fill="#D95F02"/><text x="183.0" y="1751.3" font-size="23" fill="#000">21 DAYS</text><circle cx="313.6" cy="1742.3" r="6.6" fill="#000"/><text x="350.2" y="1751.3" font-size="23" fill="#000">35 DAYS</text><circle cx="479.4" cy="1742.3" r="6.6" fill="#1B9E77"/><text x="516.2" y="1751.3" font-size="23" fill="#000">60 DAYS</text><rect x="696.6" y="1736" width="13.4" height="13.4" fill="none" stroke="#000" stroke-width="1.3"/><circle cx="871.3" cy="1742.5" r="6.3" fill="none" stroke="#000" stroke-width="1.3"/><path d="M1033.2 1736.2L1046.2 1749.2M1033.2 1749.2L1046.2 1736.2" stroke="#000" stroke-width="1.3"/><path d="M1208.3 1734.8L1216.6 1743.1L1208.3 1751.4L1200 1743.1Z" fill="none" stroke="#000" stroke-width="1.3"/><text x="739.0" y="1750.8" font-size="23" fill="#000">TIBIA_04</text><text x="907.0" y="1750.8" font-size="23" fill="#000">TIBIA_38</text><text x="1076.0" y="1750.8" font-size="23" fill="#000">TIBIA_66</text><text x="1244.3" y="1750.8" font-size="23" fill="#000">TIBIA_98</text>
</svg></body></html>
